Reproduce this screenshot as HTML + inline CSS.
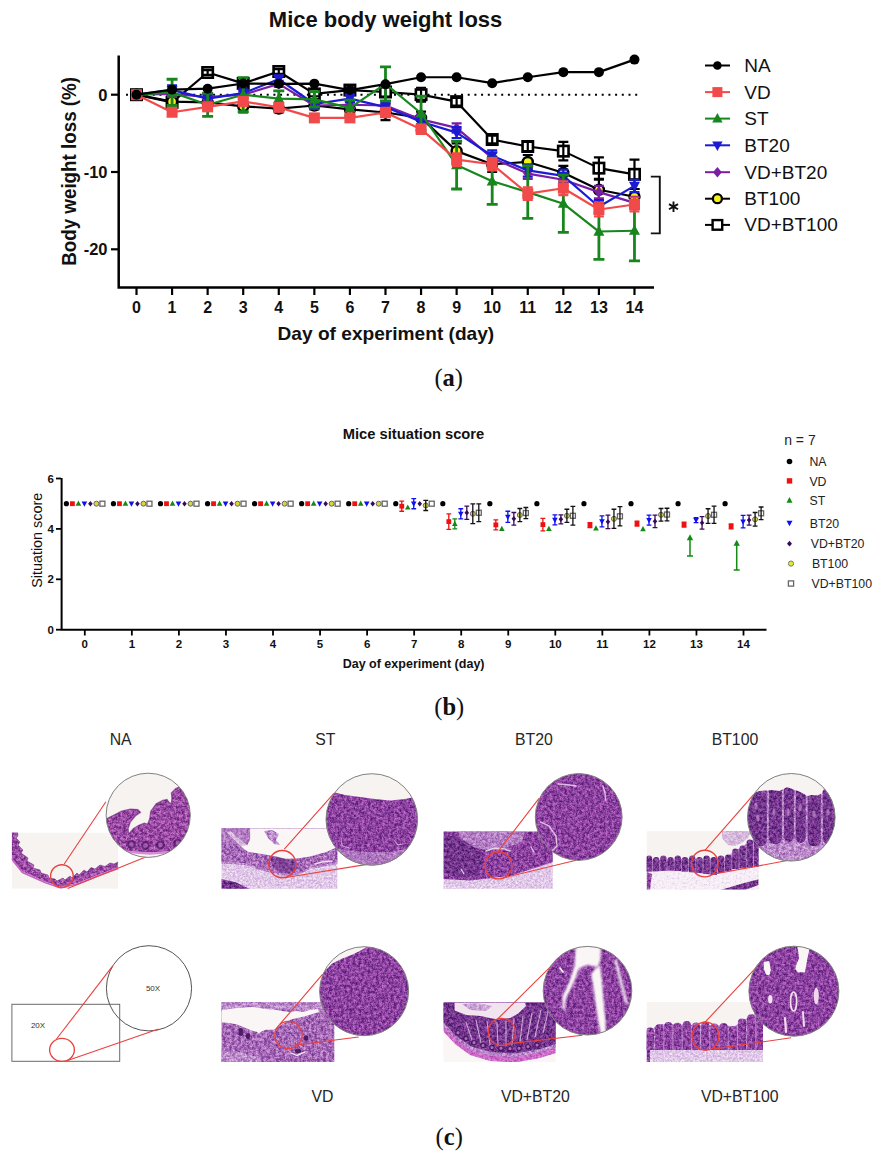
<!DOCTYPE html>
<html><head><meta charset="utf-8"><title>Figure</title>
<style>html,body{margin:0;padding:0;background:#fff;width:888px;height:1156px;overflow:hidden}svg{display:block}</style>
</head><body>
<svg width="888" height="1156" viewBox="0 0 888 1156">
<rect width="888" height="1156" fill="#fff"/>
<defs><filter id="tP" x="-0.05" y="-0.05" width="1.1" height="1.1" color-interpolation-filters="sRGB"><feTurbulence type="fractalNoise" baseFrequency="0.34" numOctaves="3" seed="3" result="n"/><feColorMatrix in="n" type="matrix" values="1 0 0 0 0  1 0 0 0 0  1 0 0 0 0  0 0 0 0 1" result="g1"/><feTurbulence type="fractalNoise" baseFrequency="0.816" numOctaves="1" seed="53" result="n2"/><feColorMatrix in="n2" type="matrix" values="1 0 0 0 0  1 0 0 0 0  1 0 0 0 0  0 0 0 0 1" result="g2"/><feComposite in="g1" in2="g2" operator="arithmetic" k1="0" k2="0.60" k3="0.40" k4="0" result="g"/><feComponentTransfer in="g" result="t"><feFuncR type="table" tableValues="0 0 0.02 0.2 0.5 0.8 0.98 1 1"/></feComponentTransfer><feColorMatrix in="t" type="matrix" values="0.486 0 0 0 0.306  0.380 0 0 0 0.071  0.408 0 0 0 0.424  0 0 0 0 1" result="c"/><feGaussianBlur in="c" stdDeviation="0.6" result="b"/><feComposite in="b" in2="SourceAlpha" operator="in"/></filter><filter id="tD" x="-0.05" y="-0.05" width="1.1" height="1.1" color-interpolation-filters="sRGB"><feTurbulence type="fractalNoise" baseFrequency="0.34" numOctaves="3" seed="7" result="n"/><feColorMatrix in="n" type="matrix" values="1 0 0 0 0  1 0 0 0 0  1 0 0 0 0  0 0 0 0 1" result="g1"/><feTurbulence type="fractalNoise" baseFrequency="0.816" numOctaves="1" seed="57" result="n2"/><feColorMatrix in="n2" type="matrix" values="1 0 0 0 0  1 0 0 0 0  1 0 0 0 0  0 0 0 0 1" result="g2"/><feComposite in="g1" in2="g2" operator="arithmetic" k1="0" k2="0.60" k3="0.40" k4="0" result="g"/><feComponentTransfer in="g" result="t"><feFuncR type="table" tableValues="0 0 0.02 0.2 0.5 0.8 0.98 1 1"/></feComponentTransfer><feColorMatrix in="t" type="matrix" values="0.471 0 0 0 0.216  0.325 0 0 0 0.047  0.400 0 0 0 0.353  0 0 0 0 1" result="c"/><feGaussianBlur in="c" stdDeviation="0.6" result="b"/><feComposite in="b" in2="SourceAlpha" operator="in"/></filter><filter id="tM" x="-0.05" y="-0.05" width="1.1" height="1.1" color-interpolation-filters="sRGB"><feTurbulence type="fractalNoise" baseFrequency="0.34" numOctaves="3" seed="5" result="n"/><feColorMatrix in="n" type="matrix" values="1 0 0 0 0  1 0 0 0 0  1 0 0 0 0  0 0 0 0 1" result="g1"/><feTurbulence type="fractalNoise" baseFrequency="0.816" numOctaves="1" seed="55" result="n2"/><feColorMatrix in="n2" type="matrix" values="1 0 0 0 0  1 0 0 0 0  1 0 0 0 0  0 0 0 0 1" result="g2"/><feComposite in="g1" in2="g2" operator="arithmetic" k1="0" k2="0.60" k3="0.40" k4="0" result="g"/><feComponentTransfer in="g" result="t"><feFuncR type="table" tableValues="0 0 0.02 0.2 0.5 0.8 0.98 1 1"/></feComponentTransfer><feColorMatrix in="t" type="matrix" values="0.361 0 0 0 0.549  0.490 0 0 0 0.294  0.286 0 0 0 0.647  0 0 0 0 1" result="c"/><feGaussianBlur in="c" stdDeviation="0.6" result="b"/><feComposite in="b" in2="SourceAlpha" operator="in"/></filter><filter id="tL" x="-0.05" y="-0.05" width="1.1" height="1.1" color-interpolation-filters="sRGB"><feTurbulence type="fractalNoise" baseFrequency="0.45" numOctaves="3" seed="11" result="n"/><feColorMatrix in="n" type="matrix" values="1 0 0 0 0  1 0 0 0 0  1 0 0 0 0  0 0 0 0 1" result="g1"/><feTurbulence type="fractalNoise" baseFrequency="1.080" numOctaves="1" seed="61" result="n2"/><feColorMatrix in="n2" type="matrix" values="1 0 0 0 0  1 0 0 0 0  1 0 0 0 0  0 0 0 0 1" result="g2"/><feComposite in="g1" in2="g2" operator="arithmetic" k1="0" k2="0.60" k3="0.40" k4="0" result="g"/><feComponentTransfer in="g" result="t"><feFuncR type="table" tableValues="0 0 0.02 0.2 0.5 0.8 0.98 1 1"/></feComponentTransfer><feColorMatrix in="t" type="matrix" values="0.204 0 0 0 0.776  0.314 0 0 0 0.627  0.141 0 0 0 0.839  0 0 0 0 1" result="c"/><feGaussianBlur in="c" stdDeviation="0.6" result="b"/><feComposite in="b" in2="SourceAlpha" operator="in"/></filter><filter id="tQ" x="-0.05" y="-0.05" width="1.1" height="1.1" color-interpolation-filters="sRGB"><feTurbulence type="fractalNoise" baseFrequency="0.34" numOctaves="3" seed="13" result="n"/><feColorMatrix in="n" type="matrix" values="1 0 0 0 0  1 0 0 0 0  1 0 0 0 0  0 0 0 0 1" result="g1"/><feTurbulence type="fractalNoise" baseFrequency="0.816" numOctaves="1" seed="63" result="n2"/><feColorMatrix in="n2" type="matrix" values="1 0 0 0 0  1 0 0 0 0  1 0 0 0 0  0 0 0 0 1" result="g2"/><feComposite in="g1" in2="g2" operator="arithmetic" k1="0" k2="0.60" k3="0.40" k4="0" result="g"/><feComponentTransfer in="g" result="t"><feFuncR type="table" tableValues="0 0 0.02 0.2 0.5 0.8 0.98 1 1"/></feComponentTransfer><feColorMatrix in="t" type="matrix" values="0.471 0 0 0 0.412  0.510 0 0 0 0.157  0.373 0 0 0 0.529  0 0 0 0 1" result="c"/><feGaussianBlur in="c" stdDeviation="0.6" result="b"/><feComposite in="b" in2="SourceAlpha" operator="in"/></filter><filter id="tK" x="-0.05" y="-0.05" width="1.1" height="1.1" color-interpolation-filters="sRGB"><feTurbulence type="fractalNoise" baseFrequency="0.34" numOctaves="3" seed="19" result="n"/><feColorMatrix in="n" type="matrix" values="1 0 0 0 0  1 0 0 0 0  1 0 0 0 0  0 0 0 0 1" result="g1"/><feTurbulence type="fractalNoise" baseFrequency="0.816" numOctaves="1" seed="69" result="n2"/><feColorMatrix in="n2" type="matrix" values="1 0 0 0 0  1 0 0 0 0  1 0 0 0 0  0 0 0 0 1" result="g2"/><feComposite in="g1" in2="g2" operator="arithmetic" k1="0" k2="0.60" k3="0.40" k4="0" result="g"/><feComponentTransfer in="g" result="t"><feFuncR type="table" tableValues="0 0 0.02 0.2 0.5 0.8 0.98 1 1"/></feComponentTransfer><feColorMatrix in="t" type="matrix" values="0.255 0 0 0 0.667  0.353 0 0 0 0.235  0.235 0 0 0 0.667  0 0 0 0 1" result="c"/><feGaussianBlur in="c" stdDeviation="0.6" result="b"/><feComposite in="b" in2="SourceAlpha" operator="in"/></filter><filter id="tN" x="-0.05" y="-0.05" width="1.1" height="1.1" color-interpolation-filters="sRGB"><feTurbulence type="fractalNoise" baseFrequency="0.34" numOctaves="3" seed="23" result="n"/><feColorMatrix in="n" type="matrix" values="1 0 0 0 0  1 0 0 0 0  1 0 0 0 0  0 0 0 0 1" result="g1"/><feTurbulence type="fractalNoise" baseFrequency="0.816" numOctaves="1" seed="73" result="n2"/><feColorMatrix in="n2" type="matrix" values="1 0 0 0 0  1 0 0 0 0  1 0 0 0 0  0 0 0 0 1" result="g2"/><feComposite in="g1" in2="g2" operator="arithmetic" k1="0" k2="0.60" k3="0.40" k4="0" result="g"/><feComponentTransfer in="g" result="t"><feFuncR type="table" tableValues="0 0 0.02 0.2 0.5 0.8 0.98 1 1"/></feComponentTransfer><feColorMatrix in="t" type="matrix" values="0.482 0 0 0 0.361  0.416 0 0 0 0.086  0.404 0 0 0 0.439  0 0 0 0 1" result="c"/><feGaussianBlur in="c" stdDeviation="0.6" result="b"/><feComposite in="b" in2="SourceAlpha" operator="in"/></filter><filter id="sb" x="-0.2" y="-0.2" width="1.4" height="1.4"><feGaussianBlur stdDeviation="0.9"/></filter><filter id="tW" x="-0.05" y="-0.05" width="1.1" height="1.1" color-interpolation-filters="sRGB"><feTurbulence type="fractalNoise" baseFrequency="0.45" numOctaves="3" seed="17" result="n"/><feColorMatrix in="n" type="matrix" values="1 0 0 0 0  1 0 0 0 0  1 0 0 0 0  0 0 0 0 1" result="g1"/><feTurbulence type="fractalNoise" baseFrequency="1.080" numOctaves="1" seed="67" result="n2"/><feColorMatrix in="n2" type="matrix" values="1 0 0 0 0  1 0 0 0 0  1 0 0 0 0  0 0 0 0 1" result="g2"/><feComposite in="g1" in2="g2" operator="arithmetic" k1="0" k2="0.60" k3="0.40" k4="0" result="g"/><feComponentTransfer in="g" result="t"><feFuncR type="table" tableValues="0 0.25 0.6 0.82 0.93 0.98 1 1 1"/></feComponentTransfer><feColorMatrix in="t" type="matrix" values="0.302 0 0 0 0.686  0.455 0 0 0 0.510  0.216 0 0 0 0.765  0 0 0 0 1" result="c"/><feGaussianBlur in="c" stdDeviation="0.6" result="b"/><feComposite in="b" in2="SourceAlpha" operator="in"/></filter></defs>
<text x="385.6" y="27.4" text-anchor="middle" font-family="Liberation Sans" font-weight="bold" font-size="22" fill="#111">Mice body weight loss</text>
<path d="M118.7 55.5V288.8M117.5 287.6H654" stroke="#000" stroke-width="2.5" fill="none"/>
<path d="M111 94.70H118" stroke="#000" stroke-width="2.2"/>
<text x="107.5" y="100.50" text-anchor="end" font-family="Liberation Sans" font-weight="bold" font-size="16.5" fill="#111">0</text>
<path d="M111 172.00H118" stroke="#000" stroke-width="2.2"/>
<text x="107.5" y="177.80" text-anchor="end" font-family="Liberation Sans" font-weight="bold" font-size="16.5" fill="#111">-10</text>
<path d="M111 249.30H118" stroke="#000" stroke-width="2.2"/>
<text x="107.5" y="255.10" text-anchor="end" font-family="Liberation Sans" font-weight="bold" font-size="16.5" fill="#111">-20</text>
<path d="M136.50 288V295" stroke="#000" stroke-width="2.2"/>
<text x="136.50" y="312.8" text-anchor="middle" font-family="Liberation Sans" font-weight="bold" font-size="16" fill="#111">0</text>
<path d="M172.07 288V295" stroke="#000" stroke-width="2.2"/>
<text x="172.07" y="312.8" text-anchor="middle" font-family="Liberation Sans" font-weight="bold" font-size="16" fill="#111">1</text>
<path d="M207.64 288V295" stroke="#000" stroke-width="2.2"/>
<text x="207.64" y="312.8" text-anchor="middle" font-family="Liberation Sans" font-weight="bold" font-size="16" fill="#111">2</text>
<path d="M243.21 288V295" stroke="#000" stroke-width="2.2"/>
<text x="243.21" y="312.8" text-anchor="middle" font-family="Liberation Sans" font-weight="bold" font-size="16" fill="#111">3</text>
<path d="M278.78 288V295" stroke="#000" stroke-width="2.2"/>
<text x="278.78" y="312.8" text-anchor="middle" font-family="Liberation Sans" font-weight="bold" font-size="16" fill="#111">4</text>
<path d="M314.35 288V295" stroke="#000" stroke-width="2.2"/>
<text x="314.35" y="312.8" text-anchor="middle" font-family="Liberation Sans" font-weight="bold" font-size="16" fill="#111">5</text>
<path d="M349.92 288V295" stroke="#000" stroke-width="2.2"/>
<text x="349.92" y="312.8" text-anchor="middle" font-family="Liberation Sans" font-weight="bold" font-size="16" fill="#111">6</text>
<path d="M385.49 288V295" stroke="#000" stroke-width="2.2"/>
<text x="385.49" y="312.8" text-anchor="middle" font-family="Liberation Sans" font-weight="bold" font-size="16" fill="#111">7</text>
<path d="M421.06 288V295" stroke="#000" stroke-width="2.2"/>
<text x="421.06" y="312.8" text-anchor="middle" font-family="Liberation Sans" font-weight="bold" font-size="16" fill="#111">8</text>
<path d="M456.63 288V295" stroke="#000" stroke-width="2.2"/>
<text x="456.63" y="312.8" text-anchor="middle" font-family="Liberation Sans" font-weight="bold" font-size="16" fill="#111">9</text>
<path d="M492.20 288V295" stroke="#000" stroke-width="2.2"/>
<text x="492.20" y="312.8" text-anchor="middle" font-family="Liberation Sans" font-weight="bold" font-size="16" fill="#111">10</text>
<path d="M527.77 288V295" stroke="#000" stroke-width="2.2"/>
<text x="527.77" y="312.8" text-anchor="middle" font-family="Liberation Sans" font-weight="bold" font-size="16" fill="#111">11</text>
<path d="M563.34 288V295" stroke="#000" stroke-width="2.2"/>
<text x="563.34" y="312.8" text-anchor="middle" font-family="Liberation Sans" font-weight="bold" font-size="16" fill="#111">12</text>
<path d="M598.91 288V295" stroke="#000" stroke-width="2.2"/>
<text x="598.91" y="312.8" text-anchor="middle" font-family="Liberation Sans" font-weight="bold" font-size="16" fill="#111">13</text>
<path d="M634.48 288V295" stroke="#000" stroke-width="2.2"/>
<text x="634.48" y="312.8" text-anchor="middle" font-family="Liberation Sans" font-weight="bold" font-size="16" fill="#111">14</text>
<text x="385.9" y="340" text-anchor="middle" font-family="Liberation Sans" font-weight="bold" font-size="19" textLength="216.7" lengthAdjust="spacingAndGlyphs" fill="#111">Day of experiment (day)</text>
<text transform="translate(76.1 265.8) rotate(-90)" x="0" y="0" font-family="Liberation Sans" font-weight="bold" font-size="20" textLength="188.8" lengthAdjust="spacingAndGlyphs" fill="#111">Body weight loss (%)</text>
<path d="M126 94.70H640" stroke="#000" stroke-width="2" stroke-dasharray="2 4.7" fill="none"/>
<polyline points="136.50,94.70 172.07,102.43 207.64,72.51 243.21,83.34 278.78,71.51 314.35,93.93 349.92,90.06 385.49,91.99 421.06,94.70 456.63,101.66 492.20,139.53 527.77,146.49 563.34,151.13 598.91,168.13 634.48,174.32" fill="none" stroke="#000" stroke-width="2.2" stroke-linejoin="round"/>
<rect x="131.30" y="89.50" width="10.40" height="10.40" fill="#fff" stroke="#000" stroke-width="2.6"/>
<rect x="166.87" y="97.23" width="10.40" height="10.40" fill="#fff" stroke="#000" stroke-width="2.6"/>
<rect x="202.44" y="67.31" width="10.40" height="10.40" fill="#fff" stroke="#000" stroke-width="2.6"/>
<rect x="238.01" y="78.14" width="10.40" height="10.40" fill="#fff" stroke="#000" stroke-width="2.6"/>
<rect x="273.58" y="66.31" width="10.40" height="10.40" fill="#fff" stroke="#000" stroke-width="2.6"/>
<rect x="309.15" y="88.73" width="10.40" height="10.40" fill="#fff" stroke="#000" stroke-width="2.6"/>
<rect x="344.72" y="84.86" width="10.40" height="10.40" fill="#fff" stroke="#000" stroke-width="2.6"/>
<rect x="380.29" y="86.79" width="10.40" height="10.40" fill="#fff" stroke="#000" stroke-width="2.6"/>
<rect x="415.86" y="89.50" width="10.40" height="10.40" fill="#fff" stroke="#000" stroke-width="2.6"/>
<rect x="451.43" y="96.46" width="10.40" height="10.40" fill="#fff" stroke="#000" stroke-width="2.6"/>
<rect x="487.00" y="134.33" width="10.40" height="10.40" fill="#fff" stroke="#000" stroke-width="2.6"/>
<rect x="522.57" y="141.29" width="10.40" height="10.40" fill="#fff" stroke="#000" stroke-width="2.6"/>
<rect x="558.14" y="145.93" width="10.40" height="10.40" fill="#fff" stroke="#000" stroke-width="2.6"/>
<rect x="593.71" y="162.94" width="10.40" height="10.40" fill="#fff" stroke="#000" stroke-width="2.6"/>
<rect x="629.28" y="169.12" width="10.40" height="10.40" fill="#fff" stroke="#000" stroke-width="2.6"/>
<path d="M172.07 100.11V104.75M167.07 100.11H177.07M167.07 104.75H177.07" stroke="#000" stroke-width="2.2" fill="none"/>
<path d="M207.64 70.20V74.83M202.64 70.20H212.64M202.64 74.83H212.64" stroke="#000" stroke-width="2.2" fill="none"/>
<path d="M243.21 81.02V85.66M238.21 81.02H248.21M238.21 85.66H248.21" stroke="#000" stroke-width="2.2" fill="none"/>
<path d="M278.78 69.19V73.83M273.78 69.19H283.78M273.78 73.83H283.78" stroke="#000" stroke-width="2.2" fill="none"/>
<path d="M314.35 91.61V96.25M309.35 91.61H319.35M309.35 96.25H319.35" stroke="#000" stroke-width="2.2" fill="none"/>
<path d="M349.92 87.74V92.38M344.92 87.74H354.92M344.92 92.38H354.92" stroke="#000" stroke-width="2.2" fill="none"/>
<path d="M385.49 87.36V96.63M380.49 87.36H390.49M380.49 96.63H390.49" stroke="#000" stroke-width="2.2" fill="none"/>
<path d="M421.06 87.74V101.66M416.06 87.74H426.06M416.06 101.66H426.06" stroke="#000" stroke-width="2.2" fill="none"/>
<path d="M456.63 97.79V105.52M451.63 97.79H461.63M451.63 105.52H461.63" stroke="#000" stroke-width="2.2" fill="none"/>
<path d="M492.20 135.67V143.40M487.20 135.67H497.20M487.20 143.40H497.20" stroke="#000" stroke-width="2.2" fill="none"/>
<path d="M527.77 141.85V151.13M522.77 141.85H532.77M522.77 151.13H532.77" stroke="#000" stroke-width="2.2" fill="none"/>
<path d="M563.34 141.85V160.41M558.34 141.85H568.34M558.34 160.41H568.34" stroke="#000" stroke-width="2.2" fill="none"/>
<path d="M598.91 157.31V178.96M593.91 157.31H603.91M593.91 178.96H603.91" stroke="#000" stroke-width="2.2" fill="none"/>
<path d="M634.48 159.63V189.01M629.48 159.63H639.48M629.48 189.01H639.48" stroke="#000" stroke-width="2.2" fill="none"/>
<path d="M172.07 97.79V105.52M167.07 97.79H177.07M167.07 105.52H177.07" stroke="#000" stroke-width="2.2" fill="none"/>
<path d="M207.64 98.56V106.30M202.64 98.56H212.64M202.64 106.30H212.64" stroke="#000" stroke-width="2.2" fill="none"/>
<path d="M243.21 100.11V112.48M238.21 100.11H248.21M238.21 112.48H248.21" stroke="#000" stroke-width="2.2" fill="none"/>
<path d="M278.78 104.75V112.48M273.78 104.75H283.78M273.78 112.48H283.78" stroke="#000" stroke-width="2.2" fill="none"/>
<path d="M314.35 101.66V109.39M309.35 101.66H319.35M309.35 109.39H319.35" stroke="#000" stroke-width="2.2" fill="none"/>
<path d="M349.92 105.52V113.25M344.92 105.52H354.92M344.92 113.25H354.92" stroke="#000" stroke-width="2.2" fill="none"/>
<path d="M385.49 104.75V120.21M380.49 104.75H390.49M380.49 120.21H390.49" stroke="#000" stroke-width="2.2" fill="none"/>
<path d="M421.06 111.71V124.07M416.06 111.71H426.06M416.06 124.07H426.06" stroke="#000" stroke-width="2.2" fill="none"/>
<path d="M456.63 143.40V158.86M451.63 143.40H461.63M451.63 158.86H461.63" stroke="#000" stroke-width="2.2" fill="none"/>
<path d="M492.20 156.54V172.00M487.20 156.54H497.20M487.20 172.00H497.20" stroke="#000" stroke-width="2.2" fill="none"/>
<path d="M527.77 154.99V168.91M522.77 154.99H532.77M522.77 168.91H532.77" stroke="#000" stroke-width="2.2" fill="none"/>
<path d="M563.34 165.82V179.73M558.34 165.82H568.34M558.34 179.73H568.34" stroke="#000" stroke-width="2.2" fill="none"/>
<path d="M598.91 179.73V199.83M593.91 179.73H603.91M593.91 199.83H603.91" stroke="#000" stroke-width="2.2" fill="none"/>
<path d="M634.48 189.01V204.47M629.48 189.01H639.48M629.48 204.47H639.48" stroke="#000" stroke-width="2.2" fill="none"/>
<polyline points="136.50,94.70 172.07,101.66 207.64,102.43 243.21,106.30 278.78,108.61 314.35,105.52 349.92,109.39 385.49,112.48 421.06,117.89 456.63,151.13 492.20,164.27 527.77,161.95 563.34,172.77 598.91,189.78 634.48,196.74" fill="none" stroke="#000" stroke-width="2.2" stroke-linejoin="round"/>
<circle cx="136.50" cy="94.70" r="5.00" fill="#f2f21a" stroke="#000" stroke-width="2.4"/>
<circle cx="172.07" cy="101.66" r="5.00" fill="#f2f21a" stroke="#000" stroke-width="2.4"/>
<circle cx="207.64" cy="102.43" r="5.00" fill="#f2f21a" stroke="#000" stroke-width="2.4"/>
<circle cx="243.21" cy="106.30" r="5.00" fill="#f2f21a" stroke="#000" stroke-width="2.4"/>
<circle cx="278.78" cy="108.61" r="5.00" fill="#f2f21a" stroke="#000" stroke-width="2.4"/>
<circle cx="314.35" cy="105.52" r="5.00" fill="#f2f21a" stroke="#000" stroke-width="2.4"/>
<circle cx="349.92" cy="109.39" r="5.00" fill="#f2f21a" stroke="#000" stroke-width="2.4"/>
<circle cx="385.49" cy="112.48" r="5.00" fill="#f2f21a" stroke="#000" stroke-width="2.4"/>
<circle cx="421.06" cy="117.89" r="5.00" fill="#f2f21a" stroke="#000" stroke-width="2.4"/>
<circle cx="456.63" cy="151.13" r="5.00" fill="#f2f21a" stroke="#000" stroke-width="2.4"/>
<circle cx="492.20" cy="164.27" r="5.00" fill="#f2f21a" stroke="#000" stroke-width="2.4"/>
<circle cx="527.77" cy="161.95" r="5.00" fill="#f2f21a" stroke="#000" stroke-width="2.4"/>
<circle cx="563.34" cy="172.77" r="5.00" fill="#f2f21a" stroke="#000" stroke-width="2.4"/>
<circle cx="598.91" cy="189.78" r="5.00" fill="#f2f21a" stroke="#000" stroke-width="2.4"/>
<circle cx="634.48" cy="196.74" r="5.00" fill="#f2f21a" stroke="#000" stroke-width="2.4"/>
<path d="M172.07 90.84V97.02M167.07 90.84H177.07M167.07 97.02H177.07" stroke="#7a1ea6" stroke-width="2.2" fill="none"/>
<path d="M207.64 93.93V100.11M202.64 93.93H212.64M202.64 100.11H212.64" stroke="#7a1ea6" stroke-width="2.2" fill="none"/>
<path d="M243.21 91.61V97.79M238.21 91.61H248.21M238.21 97.79H248.21" stroke="#7a1ea6" stroke-width="2.2" fill="none"/>
<path d="M278.78 80.79V86.97M273.78 80.79H283.78M273.78 86.97H283.78" stroke="#7a1ea6" stroke-width="2.2" fill="none"/>
<path d="M314.35 102.43V108.61M309.35 102.43H319.35M309.35 108.61H319.35" stroke="#7a1ea6" stroke-width="2.2" fill="none"/>
<path d="M349.92 101.66V107.84M344.92 101.66H354.92M344.92 107.84H354.92" stroke="#7a1ea6" stroke-width="2.2" fill="none"/>
<path d="M385.49 101.66V109.39M380.49 101.66H390.49M380.49 109.39H390.49" stroke="#7a1ea6" stroke-width="2.2" fill="none"/>
<path d="M421.06 114.80V124.07M416.06 114.80H426.06M416.06 124.07H426.06" stroke="#7a1ea6" stroke-width="2.2" fill="none"/>
<path d="M456.63 123.30V132.58M451.63 123.30H461.63M451.63 132.58H461.63" stroke="#7a1ea6" stroke-width="2.2" fill="none"/>
<path d="M492.20 152.68V163.50M487.20 152.68H497.20M487.20 163.50H497.20" stroke="#7a1ea6" stroke-width="2.2" fill="none"/>
<path d="M527.77 168.13V178.96M522.77 168.13H532.77M522.77 178.96H532.77" stroke="#7a1ea6" stroke-width="2.2" fill="none"/>
<path d="M563.34 173.55V185.91M558.34 173.55H568.34M558.34 185.91H568.34" stroke="#7a1ea6" stroke-width="2.2" fill="none"/>
<path d="M598.91 185.91V198.28M593.91 185.91H603.91M593.91 198.28H603.91" stroke="#7a1ea6" stroke-width="2.2" fill="none"/>
<path d="M634.48 196.74V209.10M629.48 196.74H639.48M629.48 209.10H639.48" stroke="#7a1ea6" stroke-width="2.2" fill="none"/>
<polyline points="136.50,94.70 172.07,93.93 207.64,97.02 243.21,94.70 278.78,83.88 314.35,105.52 349.92,104.75 385.49,105.52 421.06,119.44 456.63,127.94 492.20,158.09 527.77,173.55 563.34,179.73 598.91,192.10 634.48,202.92" fill="none" stroke="#7a1ea6" stroke-width="2.2" stroke-linejoin="round"/>
<path d="M136.50 89.20L141.18 94.70L136.50 100.20L131.82 94.70Z" fill="#7a1ea6"/>
<path d="M172.07 88.43L176.75 93.93L172.07 99.43L167.39 93.93Z" fill="#7a1ea6"/>
<path d="M207.64 91.52L212.31 97.02L207.64 102.52L202.96 97.02Z" fill="#7a1ea6"/>
<path d="M243.21 89.20L247.89 94.70L243.21 100.20L238.53 94.70Z" fill="#7a1ea6"/>
<path d="M278.78 78.38L283.45 83.88L278.78 89.38L274.10 83.88Z" fill="#7a1ea6"/>
<path d="M314.35 100.02L319.03 105.52L314.35 111.02L309.68 105.52Z" fill="#7a1ea6"/>
<path d="M349.92 99.25L354.60 104.75L349.92 110.25L345.25 104.75Z" fill="#7a1ea6"/>
<path d="M385.49 100.02L390.17 105.52L385.49 111.02L380.81 105.52Z" fill="#7a1ea6"/>
<path d="M421.06 113.94L425.74 119.44L421.06 124.94L416.38 119.44Z" fill="#7a1ea6"/>
<path d="M456.63 122.44L461.31 127.94L456.63 133.44L451.95 127.94Z" fill="#7a1ea6"/>
<path d="M492.20 152.59L496.88 158.09L492.20 163.59L487.52 158.09Z" fill="#7a1ea6"/>
<path d="M527.77 168.05L532.44 173.55L527.77 179.05L523.10 173.55Z" fill="#7a1ea6"/>
<path d="M563.34 174.23L568.01 179.73L563.34 185.23L558.67 179.73Z" fill="#7a1ea6"/>
<path d="M598.91 186.60L603.59 192.10L598.91 197.60L594.24 192.10Z" fill="#7a1ea6"/>
<path d="M634.48 197.42L639.15 202.92L634.48 208.42L629.81 202.92Z" fill="#7a1ea6"/>
<path d="M172.07 85.42V94.70M167.07 85.42H177.07M167.07 94.70H177.07" stroke="#1b1bd6" stroke-width="2.2" fill="none"/>
<path d="M207.64 94.70V102.43M202.64 94.70H212.64M202.64 102.43H212.64" stroke="#1b1bd6" stroke-width="2.2" fill="none"/>
<path d="M243.21 89.29V97.02M238.21 89.29H248.21M238.21 97.02H248.21" stroke="#1b1bd6" stroke-width="2.2" fill="none"/>
<path d="M278.78 75.38V83.11M273.78 75.38H283.78M273.78 83.11H283.78" stroke="#1b1bd6" stroke-width="2.2" fill="none"/>
<path d="M314.35 100.11V107.84M309.35 100.11H319.35M309.35 107.84H319.35" stroke="#1b1bd6" stroke-width="2.2" fill="none"/>
<path d="M349.92 94.70V102.43M344.92 94.70H354.92M344.92 102.43H354.92" stroke="#1b1bd6" stroke-width="2.2" fill="none"/>
<path d="M385.49 102.43V111.71M380.49 102.43H390.49M380.49 111.71H390.49" stroke="#1b1bd6" stroke-width="2.2" fill="none"/>
<path d="M421.06 117.12V126.39M416.06 117.12H426.06M416.06 126.39H426.06" stroke="#1b1bd6" stroke-width="2.2" fill="none"/>
<path d="M456.63 127.17V137.99M451.63 127.17H461.63M451.63 137.99H461.63" stroke="#1b1bd6" stroke-width="2.2" fill="none"/>
<path d="M492.20 150.36V161.18M487.20 150.36H497.20M487.20 161.18H497.20" stroke="#1b1bd6" stroke-width="2.2" fill="none"/>
<path d="M527.77 164.27V176.64M522.77 164.27H532.77M522.77 176.64H532.77" stroke="#1b1bd6" stroke-width="2.2" fill="none"/>
<path d="M563.34 169.68V182.05M558.34 169.68H568.34M558.34 182.05H568.34" stroke="#1b1bd6" stroke-width="2.2" fill="none"/>
<path d="M598.91 200.60V212.97M593.91 200.60H603.91M593.91 212.97H603.91" stroke="#1b1bd6" stroke-width="2.2" fill="none"/>
<path d="M634.48 179.73V192.10M629.48 179.73H639.48M629.48 192.10H639.48" stroke="#1b1bd6" stroke-width="2.2" fill="none"/>
<polyline points="136.50,94.70 172.07,90.06 207.64,98.56 243.21,93.15 278.78,79.24 314.35,103.98 349.92,98.56 385.49,107.07 421.06,121.75 456.63,132.58 492.20,155.77 527.77,170.45 563.34,175.87 598.91,206.79 634.48,185.91" fill="none" stroke="#1b1bd6" stroke-width="2.2" stroke-linejoin="round"/>
<path d="M136.50 100.75L142.00 90.58L131.00 90.58Z" fill="#1b1bd6"/>
<path d="M172.07 96.11L177.57 85.94L166.57 85.94Z" fill="#1b1bd6"/>
<path d="M207.64 104.61L213.14 94.44L202.14 94.44Z" fill="#1b1bd6"/>
<path d="M243.21 99.20L248.71 89.03L237.71 89.03Z" fill="#1b1bd6"/>
<path d="M278.78 85.29L284.28 75.12L273.28 75.12Z" fill="#1b1bd6"/>
<path d="M314.35 110.03L319.85 99.85L308.85 99.85Z" fill="#1b1bd6"/>
<path d="M349.92 104.61L355.42 94.44L344.42 94.44Z" fill="#1b1bd6"/>
<path d="M385.49 113.12L390.99 102.94L379.99 102.94Z" fill="#1b1bd6"/>
<path d="M421.06 127.80L426.56 117.63L415.56 117.63Z" fill="#1b1bd6"/>
<path d="M456.63 138.63L462.13 128.45L451.13 128.45Z" fill="#1b1bd6"/>
<path d="M492.20 161.82L497.70 151.64L486.70 151.64Z" fill="#1b1bd6"/>
<path d="M527.77 176.50L533.27 166.33L522.27 166.33Z" fill="#1b1bd6"/>
<path d="M563.34 181.92L568.84 171.74L557.84 171.74Z" fill="#1b1bd6"/>
<path d="M598.91 212.84L604.41 202.66L593.41 202.66Z" fill="#1b1bd6"/>
<path d="M634.48 191.96L639.98 181.79L628.98 181.79Z" fill="#1b1bd6"/>
<path d="M172.07 79.24V105.52M166.57 79.24H177.57M166.57 105.52H177.57" stroke="#17861d" stroke-width="2.8" fill="none"/>
<path d="M207.64 93.15V116.34M202.14 93.15H213.14M202.14 116.34H213.14" stroke="#17861d" stroke-width="2.8" fill="none"/>
<path d="M243.21 77.69V111.71M237.71 77.69H248.71M237.71 111.71H248.71" stroke="#17861d" stroke-width="2.8" fill="none"/>
<path d="M278.78 90.84V106.30M273.28 90.84H284.28M273.28 106.30H284.28" stroke="#17861d" stroke-width="2.8" fill="none"/>
<path d="M314.35 91.61V107.07M308.85 91.61H319.85M308.85 107.07H319.85" stroke="#17861d" stroke-width="2.8" fill="none"/>
<path d="M349.92 100.11V115.57M344.42 100.11H355.42M344.42 115.57H355.42" stroke="#17861d" stroke-width="2.8" fill="none"/>
<path d="M385.49 66.87V100.88M379.99 66.87H390.99M379.99 100.88H390.99" stroke="#17861d" stroke-width="2.8" fill="none"/>
<path d="M421.06 96.25V130.26M415.56 96.25H426.56M415.56 130.26H426.56" stroke="#17861d" stroke-width="2.8" fill="none"/>
<path d="M456.63 141.08V189.01M451.13 141.08H462.13M451.13 189.01H462.13" stroke="#17861d" stroke-width="2.8" fill="none"/>
<path d="M492.20 158.09V204.47M486.70 158.09H497.70M486.70 204.47H497.70" stroke="#17861d" stroke-width="2.8" fill="none"/>
<path d="M527.77 165.82V218.38M522.27 165.82H533.27M522.27 218.38H533.27" stroke="#17861d" stroke-width="2.8" fill="none"/>
<path d="M563.34 175.09V232.29M557.84 175.09H568.84M557.84 232.29H568.84" stroke="#17861d" stroke-width="2.8" fill="none"/>
<path d="M598.91 203.69V259.35M593.41 203.69H604.41M593.41 259.35H604.41" stroke="#17861d" stroke-width="2.8" fill="none"/>
<path d="M634.48 200.60V260.90M628.98 200.60H639.98M628.98 260.90H639.98" stroke="#17861d" stroke-width="2.8" fill="none"/>
<polyline points="136.50,94.70 172.07,92.38 207.64,104.75 243.21,94.70 278.78,98.56 314.35,99.34 349.92,107.84 385.49,83.88 421.06,113.25 456.63,165.04 492.20,181.28 527.77,192.10 563.34,203.69 598.91,231.52 634.48,230.75" fill="none" stroke="#17861d" stroke-width="2.2" stroke-linejoin="round"/>
<path d="M136.50 88.65L142.00 98.83L131.00 98.83Z" fill="#17861d"/>
<path d="M172.07 86.33L177.57 96.51L166.57 96.51Z" fill="#17861d"/>
<path d="M207.64 98.70L213.14 108.87L202.14 108.87Z" fill="#17861d"/>
<path d="M243.21 88.65L248.71 98.83L237.71 98.83Z" fill="#17861d"/>
<path d="M278.78 92.52L284.28 102.69L273.28 102.69Z" fill="#17861d"/>
<path d="M314.35 93.29L319.85 103.46L308.85 103.46Z" fill="#17861d"/>
<path d="M349.92 101.79L355.42 111.97L344.42 111.97Z" fill="#17861d"/>
<path d="M385.49 77.83L390.99 88.00L379.99 88.00Z" fill="#17861d"/>
<path d="M421.06 107.20L426.56 117.38L415.56 117.38Z" fill="#17861d"/>
<path d="M456.63 158.99L462.13 169.17L451.13 169.17Z" fill="#17861d"/>
<path d="M492.20 175.23L497.70 185.40L486.70 185.40Z" fill="#17861d"/>
<path d="M527.77 186.05L533.27 196.22L522.27 196.22Z" fill="#17861d"/>
<path d="M563.34 197.64L568.84 207.82L557.84 207.82Z" fill="#17861d"/>
<path d="M598.91 225.47L604.41 235.65L593.41 235.65Z" fill="#17861d"/>
<path d="M634.48 224.70L639.98 234.87L628.98 234.87Z" fill="#17861d"/>
<path d="M172.07 109.16V115.34M167.07 109.16H177.07M167.07 115.34H177.07" stroke="#f24a4a" stroke-width="2.2" fill="none"/>
<path d="M207.64 103.74V109.93M202.64 103.74H212.64M202.64 109.93H212.64" stroke="#f24a4a" stroke-width="2.2" fill="none"/>
<path d="M243.21 98.33V104.52M238.21 98.33H248.21M238.21 104.52H248.21" stroke="#f24a4a" stroke-width="2.2" fill="none"/>
<path d="M278.78 104.29V110.47M273.78 104.29H283.78M273.78 110.47H283.78" stroke="#f24a4a" stroke-width="2.2" fill="none"/>
<path d="M314.35 114.80V120.98M309.35 114.80H319.35M309.35 120.98H319.35" stroke="#f24a4a" stroke-width="2.2" fill="none"/>
<path d="M349.92 114.80V120.98M344.92 114.80H354.92M344.92 120.98H354.92" stroke="#f24a4a" stroke-width="2.2" fill="none"/>
<path d="M385.49 107.84V117.12M380.49 107.84H390.49M380.49 117.12H390.49" stroke="#f24a4a" stroke-width="2.2" fill="none"/>
<path d="M421.06 124.54V133.81M416.06 124.54H426.06M416.06 133.81H426.06" stroke="#f24a4a" stroke-width="2.2" fill="none"/>
<path d="M456.63 153.45V165.82M451.63 153.45H461.63M451.63 165.82H461.63" stroke="#f24a4a" stroke-width="2.2" fill="none"/>
<path d="M492.20 158.09V170.45M487.20 158.09H497.20M487.20 170.45H497.20" stroke="#f24a4a" stroke-width="2.2" fill="none"/>
<path d="M527.77 187.46V199.83M522.77 187.46H532.77M522.77 199.83H532.77" stroke="#f24a4a" stroke-width="2.2" fill="none"/>
<path d="M563.34 181.28V195.19M558.34 181.28H568.34M558.34 195.19H568.34" stroke="#f24a4a" stroke-width="2.2" fill="none"/>
<path d="M598.91 202.53V216.45M593.91 202.53H603.91M593.91 216.45H603.91" stroke="#f24a4a" stroke-width="2.2" fill="none"/>
<path d="M634.48 197.51V211.42M629.48 197.51H639.48M629.48 211.42H639.48" stroke="#f24a4a" stroke-width="2.2" fill="none"/>
<polyline points="136.50,94.70 172.07,112.25 207.64,106.84 243.21,101.43 278.78,107.38 314.35,117.89 349.92,117.89 385.49,112.48 421.06,129.18 456.63,159.63 492.20,164.27 527.77,193.64 563.34,188.23 598.91,209.49 634.48,204.47" fill="none" stroke="#f24a4a" stroke-width="2.2" stroke-linejoin="round"/>
<rect x="131.00" y="89.20" width="11.00" height="11.00" fill="#f24a4a"/>
<rect x="166.57" y="106.75" width="11.00" height="11.00" fill="#f24a4a"/>
<rect x="202.14" y="101.34" width="11.00" height="11.00" fill="#f24a4a"/>
<rect x="237.71" y="95.93" width="11.00" height="11.00" fill="#f24a4a"/>
<rect x="273.28" y="101.88" width="11.00" height="11.00" fill="#f24a4a"/>
<rect x="308.85" y="112.39" width="11.00" height="11.00" fill="#f24a4a"/>
<rect x="344.42" y="112.39" width="11.00" height="11.00" fill="#f24a4a"/>
<rect x="379.99" y="106.98" width="11.00" height="11.00" fill="#f24a4a"/>
<rect x="415.56" y="123.68" width="11.00" height="11.00" fill="#f24a4a"/>
<rect x="451.13" y="154.13" width="11.00" height="11.00" fill="#f24a4a"/>
<rect x="486.70" y="158.77" width="11.00" height="11.00" fill="#f24a4a"/>
<rect x="522.27" y="188.14" width="11.00" height="11.00" fill="#f24a4a"/>
<rect x="557.84" y="182.73" width="11.00" height="11.00" fill="#f24a4a"/>
<rect x="593.41" y="203.99" width="11.00" height="11.00" fill="#f24a4a"/>
<rect x="628.98" y="198.97" width="11.00" height="11.00" fill="#f24a4a"/>
<polyline points="136.50,94.70 172.07,89.60 207.64,88.67 243.21,83.49 278.78,83.80 314.35,83.65 349.92,90.06 385.49,84.19 421.06,77.23 456.63,77.23 492.20,83.18 527.77,77.23 563.34,72.13 598.91,72.13 634.48,59.61" fill="none" stroke="#000" stroke-width="2.2" stroke-linejoin="round"/>
<circle cx="136.50" cy="94.70" r="5.00" fill="#000"/>
<circle cx="172.07" cy="89.60" r="5.00" fill="#000"/>
<circle cx="207.64" cy="88.67" r="5.00" fill="#000"/>
<circle cx="243.21" cy="83.49" r="5.00" fill="#000"/>
<circle cx="278.78" cy="83.80" r="5.00" fill="#000"/>
<circle cx="314.35" cy="83.65" r="5.00" fill="#000"/>
<circle cx="349.92" cy="90.06" r="5.00" fill="#000"/>
<circle cx="385.49" cy="84.19" r="5.00" fill="#000"/>
<circle cx="421.06" cy="77.23" r="5.00" fill="#000"/>
<circle cx="456.63" cy="77.23" r="5.00" fill="#000"/>
<circle cx="492.20" cy="83.18" r="5.00" fill="#000"/>
<circle cx="527.77" cy="77.23" r="5.00" fill="#000"/>
<circle cx="563.34" cy="72.13" r="5.00" fill="#000"/>
<circle cx="598.91" cy="72.13" r="5.00" fill="#000"/>
<circle cx="634.48" cy="59.61" r="5.00" fill="#000"/>
<path d="M650.8 176.6H659.8V233.4H650.8" stroke="#111" stroke-width="1.9" fill="none"/>
<path d="M673.5 201.5V211.9M669 204.1L678 209.3M669 209.3L678 204.1" stroke="#111" stroke-width="1.9" fill="none"/>
<path d="M705 65.50H730" stroke="#000" stroke-width="2"/>
<circle cx="717.40" cy="65.50" r="4.30" fill="#000"/>
<text x="744.3" y="72.00" font-family="Liberation Sans" font-size="19" fill="#111">NA</text>
<path d="M705 92.10H730" stroke="#f24a4a" stroke-width="2"/>
<rect x="712.40" y="87.10" width="10.00" height="10.00" fill="#f24a4a"/>
<text x="744.3" y="98.60" font-family="Liberation Sans" font-size="19" fill="#111">VD</text>
<path d="M705 118.60H730" stroke="#17861d" stroke-width="2"/>
<path d="M717.40 112.88L722.60 122.50L712.20 122.50Z" fill="#17861d"/>
<text x="744.3" y="125.10" font-family="Liberation Sans" font-size="19" fill="#111">ST</text>
<path d="M705 145.30H730" stroke="#1b1bd6" stroke-width="2"/>
<path d="M717.40 151.02L722.60 141.40L712.20 141.40Z" fill="#1b1bd6"/>
<text x="744.3" y="151.80" font-family="Liberation Sans" font-size="19" fill="#111">BT20</text>
<path d="M705 172.20H730" stroke="#7a1ea6" stroke-width="2"/>
<path d="M717.40 167.00L721.82 172.20L717.40 177.40L712.98 172.20Z" fill="#7a1ea6"/>
<text x="744.3" y="178.70" font-family="Liberation Sans" font-size="19" fill="#111">VD+BT20</text>
<path d="M705 198.70H730" stroke="#000" stroke-width="2"/>
<circle cx="717.40" cy="198.70" r="4.50" fill="#f2f21a" stroke="#000" stroke-width="2.2"/>
<text x="744.3" y="205.20" font-family="Liberation Sans" font-size="19" fill="#111">BT100</text>
<path d="M705 224.90H730" stroke="#000" stroke-width="2"/>
<rect x="712.60" y="220.10" width="9.60" height="9.60" fill="#fff" stroke="#000" stroke-width="2.4"/>
<text x="744.3" y="231.40" font-family="Liberation Sans" font-size="19" fill="#111">VD+BT100</text>
<text x="448.7" y="386.3" text-anchor="middle" font-family="Liberation Serif" font-size="24.5" fill="#111">(<tspan font-weight="bold">a</tspan>)</text>
<text x="413.5" y="439.3" text-anchor="middle" font-family="Liberation Sans" font-weight="bold" font-size="15" textLength="141.5" lengthAdjust="spacingAndGlyphs" fill="#111">Mice situation score</text>
<path d="M61.6 478V630.7M60.6 629.7H766.5" stroke="#000" stroke-width="2" fill="none"/>
<path d="M56 629.70H61" stroke="#000" stroke-width="1.8"/>
<text x="54" y="633.70" text-anchor="end" font-family="Liberation Sans" font-weight="bold" font-size="11.5" fill="#111">0</text>
<path d="M56 579.30H61" stroke="#000" stroke-width="1.8"/>
<text x="54" y="583.30" text-anchor="end" font-family="Liberation Sans" font-weight="bold" font-size="11.5" fill="#111">2</text>
<path d="M56 528.90H61" stroke="#000" stroke-width="1.8"/>
<text x="54" y="532.90" text-anchor="end" font-family="Liberation Sans" font-weight="bold" font-size="11.5" fill="#111">4</text>
<path d="M56 478.50H61" stroke="#000" stroke-width="1.8"/>
<text x="54" y="482.50" text-anchor="end" font-family="Liberation Sans" font-weight="bold" font-size="11.5" fill="#111">6</text>
<path d="M84.80 630V635.5" stroke="#000" stroke-width="1.8"/>
<text x="84.80" y="648" text-anchor="middle" font-family="Liberation Sans" font-weight="bold" font-size="11.5" fill="#111">0</text>
<path d="M131.85 630V635.5" stroke="#000" stroke-width="1.8"/>
<text x="131.85" y="648" text-anchor="middle" font-family="Liberation Sans" font-weight="bold" font-size="11.5" fill="#111">1</text>
<path d="M178.90 630V635.5" stroke="#000" stroke-width="1.8"/>
<text x="178.90" y="648" text-anchor="middle" font-family="Liberation Sans" font-weight="bold" font-size="11.5" fill="#111">2</text>
<path d="M225.95 630V635.5" stroke="#000" stroke-width="1.8"/>
<text x="225.95" y="648" text-anchor="middle" font-family="Liberation Sans" font-weight="bold" font-size="11.5" fill="#111">3</text>
<path d="M273.00 630V635.5" stroke="#000" stroke-width="1.8"/>
<text x="273.00" y="648" text-anchor="middle" font-family="Liberation Sans" font-weight="bold" font-size="11.5" fill="#111">4</text>
<path d="M320.05 630V635.5" stroke="#000" stroke-width="1.8"/>
<text x="320.05" y="648" text-anchor="middle" font-family="Liberation Sans" font-weight="bold" font-size="11.5" fill="#111">5</text>
<path d="M367.10 630V635.5" stroke="#000" stroke-width="1.8"/>
<text x="367.10" y="648" text-anchor="middle" font-family="Liberation Sans" font-weight="bold" font-size="11.5" fill="#111">6</text>
<path d="M414.15 630V635.5" stroke="#000" stroke-width="1.8"/>
<text x="414.15" y="648" text-anchor="middle" font-family="Liberation Sans" font-weight="bold" font-size="11.5" fill="#111">7</text>
<path d="M461.20 630V635.5" stroke="#000" stroke-width="1.8"/>
<text x="461.20" y="648" text-anchor="middle" font-family="Liberation Sans" font-weight="bold" font-size="11.5" fill="#111">8</text>
<path d="M508.25 630V635.5" stroke="#000" stroke-width="1.8"/>
<text x="508.25" y="648" text-anchor="middle" font-family="Liberation Sans" font-weight="bold" font-size="11.5" fill="#111">9</text>
<path d="M555.30 630V635.5" stroke="#000" stroke-width="1.8"/>
<text x="555.30" y="648" text-anchor="middle" font-family="Liberation Sans" font-weight="bold" font-size="11.5" fill="#111">10</text>
<path d="M602.35 630V635.5" stroke="#000" stroke-width="1.8"/>
<text x="602.35" y="648" text-anchor="middle" font-family="Liberation Sans" font-weight="bold" font-size="11.5" fill="#111">11</text>
<path d="M649.40 630V635.5" stroke="#000" stroke-width="1.8"/>
<text x="649.40" y="648" text-anchor="middle" font-family="Liberation Sans" font-weight="bold" font-size="11.5" fill="#111">12</text>
<path d="M696.45 630V635.5" stroke="#000" stroke-width="1.8"/>
<text x="696.45" y="648" text-anchor="middle" font-family="Liberation Sans" font-weight="bold" font-size="11.5" fill="#111">13</text>
<path d="M743.50 630V635.5" stroke="#000" stroke-width="1.8"/>
<text x="743.50" y="648" text-anchor="middle" font-family="Liberation Sans" font-weight="bold" font-size="11.5" fill="#111">14</text>
<text x="413.6" y="668.4" text-anchor="middle" font-family="Liberation Sans" font-weight="bold" font-size="12.5" textLength="141.9" lengthAdjust="spacingAndGlyphs" fill="#111">Day of experiment (day)</text>
<text transform="translate(42.3 587.8) rotate(-90)" font-family="Liberation Sans" font-size="15.2" textLength="95" lengthAdjust="spacingAndGlyphs" fill="#111">Situation score</text>
<circle cx="66.40" cy="503.70" r="2.60" fill="#000"/>
<rect x="70.00" y="501.30" width="4.80" height="4.80" fill="#f01010"/>
<path d="M78.40 500.62L81.20 505.80L75.60 505.80Z" fill="#138a13"/>
<path d="M84.40 506.78L87.20 501.60L81.60 501.60Z" fill="#1010f0"/>
<path d="M90.40 501.00L92.69 503.70L90.40 506.40L88.10 503.70Z" fill="#3a0a5a"/>
<circle cx="96.40" cy="503.70" r="2.50" fill="#d6d640" stroke="#666" stroke-width="1.0"/>
<rect x="99.90" y="501.20" width="5.00" height="5.00" fill="#fff" stroke="#666" stroke-width="1.3"/>
<circle cx="113.45" cy="503.70" r="2.60" fill="#000"/>
<rect x="117.05" y="501.30" width="4.80" height="4.80" fill="#f01010"/>
<path d="M125.45 500.62L128.25 505.80L122.65 505.80Z" fill="#138a13"/>
<path d="M131.45 506.78L134.25 501.60L128.65 501.60Z" fill="#1010f0"/>
<path d="M137.45 501.00L139.74 503.70L137.45 506.40L135.16 503.70Z" fill="#3a0a5a"/>
<circle cx="143.45" cy="503.70" r="2.50" fill="#d6d640" stroke="#666" stroke-width="1.0"/>
<rect x="146.95" y="501.20" width="5.00" height="5.00" fill="#fff" stroke="#666" stroke-width="1.3"/>
<circle cx="160.50" cy="503.70" r="2.60" fill="#000"/>
<rect x="164.10" y="501.30" width="4.80" height="4.80" fill="#f01010"/>
<path d="M172.50 500.62L175.30 505.80L169.70 505.80Z" fill="#138a13"/>
<path d="M178.50 506.78L181.30 501.60L175.70 501.60Z" fill="#1010f0"/>
<path d="M184.50 501.00L186.79 503.70L184.50 506.40L182.20 503.70Z" fill="#3a0a5a"/>
<circle cx="190.50" cy="503.70" r="2.50" fill="#d6d640" stroke="#666" stroke-width="1.0"/>
<rect x="194.00" y="501.20" width="5.00" height="5.00" fill="#fff" stroke="#666" stroke-width="1.3"/>
<circle cx="207.55" cy="503.70" r="2.60" fill="#000"/>
<rect x="211.15" y="501.30" width="4.80" height="4.80" fill="#f01010"/>
<path d="M219.55 500.62L222.35 505.80L216.75 505.80Z" fill="#138a13"/>
<path d="M225.55 506.78L228.35 501.60L222.75 501.60Z" fill="#1010f0"/>
<path d="M231.55 501.00L233.84 503.70L231.55 506.40L229.25 503.70Z" fill="#3a0a5a"/>
<circle cx="237.55" cy="503.70" r="2.50" fill="#d6d640" stroke="#666" stroke-width="1.0"/>
<rect x="241.05" y="501.20" width="5.00" height="5.00" fill="#fff" stroke="#666" stroke-width="1.3"/>
<circle cx="254.60" cy="503.70" r="2.60" fill="#000"/>
<rect x="258.20" y="501.30" width="4.80" height="4.80" fill="#f01010"/>
<path d="M266.60 500.62L269.40 505.80L263.80 505.80Z" fill="#138a13"/>
<path d="M272.60 506.78L275.40 501.60L269.80 501.60Z" fill="#1010f0"/>
<path d="M278.60 501.00L280.90 503.70L278.60 506.40L276.31 503.70Z" fill="#3a0a5a"/>
<circle cx="284.60" cy="503.70" r="2.50" fill="#d6d640" stroke="#666" stroke-width="1.0"/>
<rect x="288.10" y="501.20" width="5.00" height="5.00" fill="#fff" stroke="#666" stroke-width="1.3"/>
<circle cx="301.65" cy="503.70" r="2.60" fill="#000"/>
<rect x="305.25" y="501.30" width="4.80" height="4.80" fill="#f01010"/>
<path d="M313.65 500.62L316.45 505.80L310.85 505.80Z" fill="#138a13"/>
<path d="M319.65 506.78L322.45 501.60L316.85 501.60Z" fill="#1010f0"/>
<path d="M325.65 501.00L327.95 503.70L325.65 506.40L323.36 503.70Z" fill="#3a0a5a"/>
<circle cx="331.65" cy="503.70" r="2.50" fill="#d6d640" stroke="#666" stroke-width="1.0"/>
<rect x="335.15" y="501.20" width="5.00" height="5.00" fill="#fff" stroke="#666" stroke-width="1.3"/>
<circle cx="348.70" cy="503.70" r="2.60" fill="#000"/>
<rect x="352.30" y="501.30" width="4.80" height="4.80" fill="#f01010"/>
<path d="M360.70 500.62L363.50 505.80L357.90 505.80Z" fill="#138a13"/>
<path d="M366.70 506.78L369.50 501.60L363.90 501.60Z" fill="#1010f0"/>
<path d="M372.70 501.00L375.00 503.70L372.70 506.40L370.40 503.70Z" fill="#3a0a5a"/>
<circle cx="378.70" cy="503.70" r="2.50" fill="#d6d640" stroke="#666" stroke-width="1.0"/>
<rect x="382.20" y="501.20" width="5.00" height="5.00" fill="#fff" stroke="#666" stroke-width="1.3"/>
<circle cx="395.75" cy="503.70" r="2.60" fill="#000"/>
<rect x="399.35" y="503.82" width="4.80" height="4.80" fill="#f01010"/>
<path d="M401.75 501.18V511.26M399.35 501.18H404.15M399.35 511.26H404.15" stroke="#f01010" stroke-width="1.3" fill="none"/>
<path d="M407.75 504.40L410.55 509.58L404.95 509.58Z" fill="#138a13"/>
<path d="M413.75 506.78L416.55 501.60L410.95 501.60Z" fill="#1010f0"/>
<path d="M413.75 498.66V508.74M411.35 498.66H416.15M411.35 508.74H416.15" stroke="#1010f0" stroke-width="1.3" fill="none"/>
<path d="M419.75 501.00L422.05 503.70L419.75 506.40L417.45 503.70Z" fill="#3a0a5a"/>
<circle cx="425.75" cy="505.46" r="2.50" fill="#d6d640" stroke="#666" stroke-width="1.0"/>
<path d="M425.75 500.42V510.50M423.35 500.42H428.15M423.35 510.50H428.15" stroke="#111" stroke-width="1.3" fill="none"/>
<rect x="429.25" y="501.20" width="5.00" height="5.00" fill="#fff" stroke="#666" stroke-width="1.3"/>
<circle cx="442.80" cy="503.70" r="2.60" fill="#000"/>
<rect x="446.40" y="519.19" width="4.80" height="4.80" fill="#f01010"/>
<path d="M448.80 513.78V529.40M446.40 513.78H451.20M446.40 529.40H451.20" stroke="#f01010" stroke-width="1.3" fill="none"/>
<path d="M454.80 520.78L457.60 525.96L452.00 525.96Z" fill="#138a13"/>
<path d="M454.80 518.82V528.90M452.40 518.82H457.20M452.40 528.90H457.20" stroke="#138a13" stroke-width="1.3" fill="none"/>
<path d="M460.80 516.86L463.60 511.68L458.00 511.68Z" fill="#1010f0"/>
<path d="M460.80 508.74V518.82M458.40 508.74H463.20M458.40 518.82H463.20" stroke="#1010f0" stroke-width="1.3" fill="none"/>
<path d="M466.80 510.07L469.10 512.77L466.80 515.47L464.50 512.77Z" fill="#3a0a5a"/>
<path d="M466.80 506.22V519.32M464.40 506.22H469.20M464.40 519.32H469.20" stroke="#3a0a5a" stroke-width="1.3" fill="none"/>
<circle cx="472.80" cy="513.78" r="2.50" fill="#d6d640" stroke="#666" stroke-width="1.0"/>
<path d="M472.80 503.95V523.61M470.40 503.95H475.20M470.40 523.61H475.20" stroke="#111" stroke-width="1.3" fill="none"/>
<rect x="476.30" y="510.27" width="5.00" height="5.00" fill="#fff" stroke="#666" stroke-width="1.3"/>
<path d="M478.80 503.95V521.59M476.40 503.95H481.20M476.40 521.59H481.20" stroke="#111" stroke-width="1.3" fill="none"/>
<circle cx="489.85" cy="503.70" r="2.60" fill="#000"/>
<rect x="493.45" y="522.47" width="4.80" height="4.80" fill="#f01010"/>
<path d="M495.85 519.83V529.91M493.45 519.83H498.25M493.45 529.91H498.25" stroke="#f01010" stroke-width="1.3" fill="none"/>
<path d="M501.85 525.82L504.65 531.00L499.05 531.00Z" fill="#138a13"/>
<path d="M507.85 519.88L510.65 514.70L505.05 514.70Z" fill="#1010f0"/>
<path d="M507.85 511.26V522.35M505.45 511.26H510.25M505.45 522.35H510.25" stroke="#1010f0" stroke-width="1.3" fill="none"/>
<path d="M513.85 516.12L516.14 518.82L513.85 521.52L511.56 518.82Z" fill="#3a0a5a"/>
<path d="M513.85 512.52V525.12M511.45 512.52H516.25M511.45 525.12H516.25" stroke="#3a0a5a" stroke-width="1.3" fill="none"/>
<circle cx="519.85" cy="515.04" r="2.50" fill="#d6d640" stroke="#666" stroke-width="1.0"/>
<path d="M519.85 508.49V521.59M517.45 508.49H522.25M517.45 521.59H522.25" stroke="#111" stroke-width="1.3" fill="none"/>
<rect x="523.35" y="510.52" width="5.00" height="5.00" fill="#fff" stroke="#666" stroke-width="1.3"/>
<path d="M525.85 507.48V518.57M523.45 507.48H528.25M523.45 518.57H528.25" stroke="#111" stroke-width="1.3" fill="none"/>
<circle cx="536.90" cy="503.70" r="2.60" fill="#000"/>
<rect x="540.50" y="522.22" width="4.80" height="4.80" fill="#f01010"/>
<path d="M542.90 518.32V530.92M540.50 518.32H545.30M540.50 530.92H545.30" stroke="#f01010" stroke-width="1.3" fill="none"/>
<path d="M548.90 525.82L551.70 531.00L546.10 531.00Z" fill="#138a13"/>
<path d="M554.90 522.91L557.70 517.73L552.10 517.73Z" fill="#1010f0"/>
<path d="M554.90 514.79V524.87M552.50 514.79H557.30M552.50 524.87H557.30" stroke="#1010f0" stroke-width="1.3" fill="none"/>
<path d="M560.90 516.62L563.19 519.32L560.90 522.02L558.61 519.32Z" fill="#3a0a5a"/>
<path d="M560.90 514.79V523.86M558.50 514.79H563.30M558.50 523.86H563.30" stroke="#3a0a5a" stroke-width="1.3" fill="none"/>
<circle cx="566.90" cy="515.80" r="2.50" fill="#d6d640" stroke="#666" stroke-width="1.0"/>
<path d="M566.90 509.24V522.35M564.50 509.24H569.30M564.50 522.35H569.30" stroke="#111" stroke-width="1.3" fill="none"/>
<rect x="570.40" y="513.30" width="5.00" height="5.00" fill="#fff" stroke="#666" stroke-width="1.3"/>
<path d="M572.90 506.47V525.12M570.50 506.47H575.30M570.50 525.12H575.30" stroke="#111" stroke-width="1.3" fill="none"/>
<circle cx="583.95" cy="503.70" r="2.60" fill="#000"/>
<rect x="587.55" y="522.72" width="4.80" height="4.80" fill="#f01010"/>
<path d="M589.95 522.60V527.64M587.55 522.60H592.35M587.55 527.64H592.35" stroke="#f01010" stroke-width="1.3" fill="none"/>
<path d="M595.95 525.32L598.75 530.50L593.15 530.50Z" fill="#138a13"/>
<path d="M601.95 524.42L604.75 519.24L599.15 519.24Z" fill="#1010f0"/>
<path d="M601.95 515.80V526.88M599.55 515.80H604.35M599.55 526.88H604.35" stroke="#1010f0" stroke-width="1.3" fill="none"/>
<path d="M607.95 519.14L610.24 521.84L607.95 524.54L605.65 521.84Z" fill="#3a0a5a"/>
<path d="M607.95 515.04V528.65M605.55 515.04H610.35M605.55 528.65H610.35" stroke="#3a0a5a" stroke-width="1.3" fill="none"/>
<circle cx="613.95" cy="518.82" r="2.50" fill="#d6d640" stroke="#666" stroke-width="1.0"/>
<path d="M613.95 509.24V528.40M611.55 509.24H616.35M611.55 528.40H616.35" stroke="#111" stroke-width="1.3" fill="none"/>
<rect x="617.45" y="513.80" width="5.00" height="5.00" fill="#fff" stroke="#666" stroke-width="1.3"/>
<path d="M619.95 506.72V525.88M617.55 506.72H622.35M617.55 525.88H622.35" stroke="#111" stroke-width="1.3" fill="none"/>
<circle cx="631.00" cy="503.70" r="2.60" fill="#000"/>
<rect x="634.60" y="521.21" width="4.80" height="4.80" fill="#f01010"/>
<path d="M637.00 521.09V526.13M634.60 521.09H639.40M634.60 526.13H639.40" stroke="#f01010" stroke-width="1.3" fill="none"/>
<path d="M643.00 526.07L645.80 531.25L640.20 531.25Z" fill="#138a13"/>
<path d="M649.00 523.16L651.80 517.98L646.20 517.98Z" fill="#1010f0"/>
<path d="M649.00 515.04V525.12M646.60 515.04H651.40M646.60 525.12H651.40" stroke="#1010f0" stroke-width="1.3" fill="none"/>
<path d="M655.00 518.64L657.29 521.34L655.00 524.04L652.70 521.34Z" fill="#3a0a5a"/>
<path d="M655.00 515.04V527.64M652.60 515.04H657.40M652.60 527.64H657.40" stroke="#3a0a5a" stroke-width="1.3" fill="none"/>
<circle cx="661.00" cy="514.79" r="2.50" fill="#d6d640" stroke="#666" stroke-width="1.0"/>
<path d="M661.00 508.49V521.09M658.60 508.49H663.40M658.60 521.09H663.40" stroke="#111" stroke-width="1.3" fill="none"/>
<rect x="664.50" y="512.04" width="5.00" height="5.00" fill="#fff" stroke="#666" stroke-width="1.3"/>
<path d="M667.00 508.24V520.84M664.60 508.24H669.40M664.60 520.84H669.40" stroke="#111" stroke-width="1.3" fill="none"/>
<circle cx="678.05" cy="503.70" r="2.60" fill="#000"/>
<rect x="681.65" y="522.22" width="4.80" height="4.80" fill="#f01010"/>
<path d="M684.05 522.10V527.14M681.65 522.10H686.45M681.65 527.14H686.45" stroke="#f01010" stroke-width="1.3" fill="none"/>
<path d="M696.05 523.16L698.85 517.98L693.25 517.98Z" fill="#1010f0"/>
<path d="M696.05 517.56V522.60M693.65 517.56H698.45M693.65 522.60H698.45" stroke="#1010f0" stroke-width="1.3" fill="none"/>
<path d="M702.05 520.15L704.34 522.85L702.05 525.55L699.75 522.85Z" fill="#3a0a5a"/>
<path d="M702.05 516.55V529.15M699.65 516.55H704.45M699.65 529.15H704.45" stroke="#3a0a5a" stroke-width="1.3" fill="none"/>
<circle cx="708.05" cy="516.05" r="2.50" fill="#d6d640" stroke="#666" stroke-width="1.0"/>
<path d="M708.05 508.74V523.36M705.65 508.74H710.45M705.65 523.36H710.45" stroke="#111" stroke-width="1.3" fill="none"/>
<rect x="711.55" y="512.29" width="5.00" height="5.00" fill="#fff" stroke="#666" stroke-width="1.3"/>
<path d="M714.05 506.22V523.36M711.65 506.22H716.45M711.65 523.36H716.45" stroke="#111" stroke-width="1.3" fill="none"/>
<circle cx="725.10" cy="503.70" r="2.60" fill="#000"/>
<rect x="728.70" y="523.98" width="4.80" height="4.80" fill="#f01010"/>
<path d="M731.10 523.86V528.90M728.70 523.86H733.50M728.70 528.90H733.50" stroke="#f01010" stroke-width="1.3" fill="none"/>
<path d="M743.10 524.67L745.90 519.49L740.30 519.49Z" fill="#1010f0"/>
<path d="M743.10 515.29V527.89M740.70 515.29H745.50M740.70 527.89H745.50" stroke="#1010f0" stroke-width="1.3" fill="none"/>
<path d="M749.10 517.38L751.39 520.08L749.10 522.78L746.80 520.08Z" fill="#3a0a5a"/>
<path d="M749.10 515.04V525.12M746.70 515.04H751.50M746.70 525.12H751.50" stroke="#3a0a5a" stroke-width="1.3" fill="none"/>
<circle cx="755.10" cy="519.32" r="2.50" fill="#d6d640" stroke="#666" stroke-width="1.0"/>
<path d="M755.10 512.52V526.13M752.70 512.52H757.50M752.70 526.13H757.50" stroke="#111" stroke-width="1.3" fill="none"/>
<rect x="758.60" y="510.78" width="5.00" height="5.00" fill="#fff" stroke="#666" stroke-width="1.3"/>
<path d="M761.10 506.98V519.58M758.70 506.98H763.50M758.70 519.58H763.50" stroke="#111" stroke-width="1.3" fill="none"/>
<path d="M690 537.2V556.1M687 556.1H693" stroke="#138a13" stroke-width="1.5" fill="none"/>
<path d="M690 534.2L693.2 540.2L686.8 540.2Z" fill="#138a13"/>
<path d="M736.7 542.8V570.1M733.7 570.1H739.7" stroke="#138a13" stroke-width="1.5" fill="none"/>
<path d="M736.7 539.8L739.9000000000001 545.8L733.5 545.8Z" fill="#138a13"/>
<text x="784.2" y="444.6" font-family="Liberation Sans" font-size="14" fill="#222">n = 7</text>
<circle cx="789.50" cy="461.50" r="2.80" fill="#000"/>
<text x="809.4" y="466.10" font-family="Liberation Sans" font-size="12.3" fill="#222">NA</text>
<rect x="786.80" y="478.20" width="5.40" height="5.40" fill="#f01010"/>
<text x="809.4" y="485.50" font-family="Liberation Sans" font-size="12.3" fill="#222">VD</text>
<path d="M789.50 497.10L792.50 502.65L786.50 502.65Z" fill="#138a13"/>
<text x="809.6" y="505.00" font-family="Liberation Sans" font-size="12.3" fill="#222">ST</text>
<path d="M789.50 526.30L792.50 520.75L786.50 520.75Z" fill="#1010f0"/>
<text x="809.8" y="527.60" font-family="Liberation Sans" font-size="12.3" fill="#222">BT20</text>
<path d="M789.50 540.80L791.97 543.70L789.50 546.60L787.03 543.70Z" fill="#3a0a5a"/>
<text x="810.7" y="548.30" font-family="Liberation Sans" font-size="12.3" fill="#222">VD+BT20</text>
<circle cx="791.00" cy="563.60" r="2.60" fill="#e8e830" stroke="#777" stroke-width="1.0"/>
<text x="811.9" y="568.20" font-family="Liberation Sans" font-size="12.3" fill="#222">BT100</text>
<rect x="788.40" y="580.90" width="5.20" height="5.20" fill="#fff" stroke="#666" stroke-width="1.3"/>
<text x="811.5" y="588.10" font-family="Liberation Sans" font-size="12.3" fill="#222">VD+BT100</text>
<text x="449.3" y="714.6" text-anchor="middle" font-family="Liberation Serif" font-size="24.5" fill="#111">(<tspan font-weight="bold">b</tspan>)</text>
<text x="120.65" y="744.7" text-anchor="middle" font-family="Liberation Sans" font-size="15.8" fill="#262626">NA</text>
<text x="325.25" y="744.7" text-anchor="middle" font-family="Liberation Sans" font-size="15.8" fill="#262626">ST</text>
<text x="533.9" y="744.7" text-anchor="middle" font-family="Liberation Sans" font-size="15.8" fill="#262626">BT20</text>
<text x="734.95" y="744.7" text-anchor="middle" font-family="Liberation Sans" font-size="15.8" fill="#262626">BT100</text>
<text x="322.5" y="1102.1" text-anchor="middle" font-family="Liberation Sans" font-size="15.8" fill="#262626">VD</text>
<text x="535.35" y="1102.1" text-anchor="middle" font-family="Liberation Sans" font-size="15.8" fill="#262626">VD+BT20</text>
<text x="739.75" y="1102.1" text-anchor="middle" font-family="Liberation Sans" font-size="15.8" fill="#262626">VD+BT100</text>
<clipPath id="rNA"><rect x="11.7" y="832.5" width="106.5" height="56.3"/></clipPath><g clip-path="url(#rNA)"><rect x="11.7" y="832.5" width="106.5" height="56.3" fill="#f7f3f1"/><path d="M11.7 832.5L17.5 832.5L18.0 836.0L16.0 838.0L20.0 842.0L18.0 845.0L23.0 850.0L21.0 853.0L28.0 858.0L27.0 861.0L34.0 865.0L33.0 868.0L40.0 870.0L41.0 873.0L48.0 875.0L49.0 878.0L55.0 879.0L57.0 881.0L63.0 878.0L65.0 880.0L70.0 876.0L72.0 878.0L77.0 873.0L79.0 875.0L84.0 870.0L87.0 872.0L91.0 867.5L95.0 869.0L100.0 865.0L105.0 866.5L110.0 863.0L114.0 864.0L118.2 862.0L118.2 867.5L101.4 873.5L78.8 882.5L60.8 887.0L45.0 881.5L22.5 871.5L11.7 858.0Z" filter="url(#tN)" fill="#000"/><path d="M11.7 832.5L17.5 832.5L18.0 836.0L16.0 838.0L20.0 842.0L18.0 845.0L23.0 850.0L21.0 853.0L28.0 858.0L27.0 861.0L34.0 865.0L33.0 868.0L40.0 870.0L41.0 873.0L48.0 875.0L49.0 878.0L55.0 879.0L57.0 881.0L63.0 878.0L65.0 880.0L70.0 876.0L72.0 878.0L77.0 873.0L79.0 875.0L84.0 870.0L87.0 872.0L91.0 867.5L95.0 869.0L100.0 865.0L105.0 866.5L110.0 863.0L114.0 864.0L118.2 862.0" stroke="#5a1670" stroke-width="0.9" fill="none" stroke-linecap="round" stroke-linejoin="round" opacity="0.5"/><path d="M118.2 868.5L101.4 874.5L78.8 883.5L60.8 888.0L45.0 882.5L22.5 872.5L11.7 859.0" stroke="#c862c4" stroke-width="1.8" fill="none" stroke-linecap="round" stroke-linejoin="round"/></g><ellipse cx="61.9" cy="876" rx="11.3" ry="11.3" fill="none" stroke="#e8423f" stroke-width="1.35"/><path d="M64.2 864L105.9 801.7M67.6 888.4L146.4 856.8" stroke="#e8423f" stroke-width="1.1" fill="none"/><clipPath id="cNA"><circle cx="148.2" cy="815.3" r="42.1"/></clipPath><g clip-path="url(#cNA)"><circle cx="148.2" cy="815.3" r="42.1" fill="#f7f3f1"/><path d="M104.0 819.5L106.5 818.8L113.0 815.6L121.6 811.2L130.3 809.1L137.8 809.6L140.5 812.3L135.7 815.6L130.3 822.1L128.1 828.5L128.6 834.0L133.5 828.5L138.9 825.3L144.3 823.1L147.6 824.2L149.7 818.8L150.8 811.2L156.2 803.7L162.7 800.4L167.0 799.4L169.2 802.6L171.4 803.7L171.9 798.3L171.4 792.9L175.7 788.5L179.5 786.9L184.3 789.6L192.0 795.0L192.0 852.0L104.0 852.0Z" filter="url(#tN)" fill="#000"/><path d="M104.0 819.5L106.5 818.8L113.0 815.6L121.6 811.2L130.3 809.1L137.8 809.6L140.5 812.3L135.7 815.6L130.3 822.1L128.1 828.5L128.6 834.0L133.5 828.5L138.9 825.3L144.3 823.1L147.6 824.2L149.7 818.8L150.8 811.2L156.2 803.7L162.7 800.4L167.0 799.4L169.2 802.6L171.4 803.7L171.9 798.3L171.4 792.9L175.7 788.5L179.5 786.9L184.3 789.6L192.0 795.0L192.0 852.0L104.0 852.0Z" fill="none" stroke="#5a1670" stroke-width="1.3" opacity="0.55"/><circle cx="131.4" cy="844.5" r="3.4" fill="#a763b3" stroke="#4a1262" stroke-width="2" opacity="0.7"/><circle cx="145.4" cy="845.5" r="3.4" fill="#a763b3" stroke="#4a1262" stroke-width="2" opacity="0.7"/><circle cx="160.5" cy="845" r="3.4" fill="#a763b3" stroke="#4a1262" stroke-width="2" opacity="0.7"/><circle cx="177.8" cy="843" r="3.4" fill="#a763b3" stroke="#4a1262" stroke-width="2" opacity="0.7"/><path d="M104.0 849.0L130.0 852.0L150.0 853.5L170.0 852.0L192.0 848.0" stroke="#d88ad8" stroke-width="2.6" fill="none" stroke-linecap="round" stroke-linejoin="round"/><path d="M104.0 853.0L130.0 856.0L150.0 857.0L170.0 856.0L192.0 852.0L192.0 870.0L104.0 870.0Z" fill="#f7f3f1"/></g><circle cx="148.2" cy="815.3" r="42.1" fill="none" stroke="#808080" stroke-width="1"/><clipPath id="rST"><rect x="221.6" y="828.2" width="115.7" height="60.5"/></clipPath><g clip-path="url(#rST)"><rect x="221.6" y="828.2" width="115.7" height="60.5" fill="#f7f3f1"/><path d="M221.0 855.0L338.0 855.0L338.0 889.0L221.0 889.0Z" filter="url(#tL)" fill="#000"/><path d="M221.0 828.0L338.0 828.0L338.0 864.0L310.0 869.0L300.0 874.0L290.0 876.0L280.0 875.3L259.0 869.5L244.3 865.1L221.0 863.6Z" filter="url(#tM)" fill="#000"/><path d="M221.0 828.0L338.0 828.0L338.0 862.0L310.0 867.0L300.0 872.0L290.0 874.0L280.0 873.3L259.0 867.5L244.3 863.1L221.0 861.6Z" filter="url(#tQ)" fill="#000"/><path d="M270.0 856.0L285.0 858.0L295.0 860.0L298.0 868.0L290.0 873.0L280.0 872.0L272.0 866.0Z" filter="url(#tD)" fill="#000" opacity="0.7"/><path d="M250.1 828.2L337.6 828.2L337.6 847.0L326.3 852.1L310.2 856.5L297.0 858.4L285.3 858.7L276.5 856.5L267.7 855.0L258.9 853.5L248.7 852.1L244.3 849.2L237.0 842.6L229.6 835.2L226.0 831.6L231.1 831.6L238.4 838.2L247.2 845.5L250.1 839.6Z" fill="#faf6f6"/><path d="M264.0 831.0L272.0 830.0L279.0 834.0L276.0 840.0L280.0 845.0L274.0 844.0L268.0 838.0Z" filter="url(#tM)" fill="#000"/><path d="M221.0 828.0L250.0 828.0L250.0 840.0L245.0 846.0L235.0 846.0L221.0 840.0Z" filter="url(#tM)" fill="#000" opacity="0.55"/><path d="M221.0 879.0L235.0 882.0L250.0 889.0L221.0 889.0Z" filter="url(#tD)" fill="#000"/><path d="M315.0 864.0L322.0 862.0L332.0 861.0" stroke="#efdcee" stroke-width="1.5" fill="none" stroke-linecap="round" stroke-linejoin="round"/></g><ellipse cx="282.3" cy="864.1" rx="13.6" ry="13.6" fill="none" stroke="#e8423f" stroke-width="1.35"/><path d="M284.3 849.2L333.9 793.4M284.3 877.7L368.6 864.1" stroke="#e8423f" stroke-width="1.1" fill="none"/><clipPath id="cST"><circle cx="371.8" cy="819.5" r="45.8"/></clipPath><g clip-path="url(#cST)"><circle cx="371.8" cy="819.5" r="45.8" fill="#f7f3f1"/><path d="M322.0 792.5L335.0 792.5L345.0 795.0L360.0 797.0L375.0 799.0L390.0 800.5L405.0 799.0L415.0 797.0L425.0 797.0L425.0 870.0L322.0 870.0Z" filter="url(#tP)" fill="#000"/><path d="M322.0 846.0L345.0 850.0L365.0 852.0L390.0 852.0L422.0 846.0L422.0 870.0L322.0 870.0Z" filter="url(#tM)" fill="#000" opacity="0.75"/><path d="M341.0 838.0L342.0 846.0L350.0 848.0" stroke="#efdcee" stroke-width="1.0" fill="none" stroke-linecap="round" stroke-linejoin="round" opacity="0.6"/><path d="M394.0 840.0L398.0 845.0L403.0 844.0" stroke="#efdcee" stroke-width="1.0" fill="none" stroke-linecap="round" stroke-linejoin="round" opacity="0.6"/></g><circle cx="371.8" cy="819.5" r="45.8" fill="none" stroke="#808080" stroke-width="1"/><clipPath id="rBT20"><rect x="443.6" y="831.6" width="109.1" height="57.1"/></clipPath><g clip-path="url(#rBT20)"><rect x="443.6" y="831.6" width="109.1" height="57.1" fill="#f7f3f1"/><path d="M442.0 870.0L553.0 855.0L553.0 889.0L442.0 889.0Z" filter="url(#tL)" fill="#000"/><path d="M442.0 831.0L553.0 831.0L553.0 862.0L535.0 868.0L510.0 876.0L470.0 880.6L442.0 879.0Z" filter="url(#tP)" fill="#000"/><path d="M459.0 831.6L525.0 831.6L522.0 842.0L500.0 850.0L480.0 849.0L462.0 844.0Z" filter="url(#tM)" fill="#000" opacity="0.85"/><path d="M443.6 838.0L455.0 835.0L468.0 843.0L480.0 852.0L485.0 862.0L480.0 872.0L466.0 878.0L452.0 876.0L443.6 872.0Z" filter="url(#tD)" fill="#000"/><path d="M486.0 851.0L495.0 848.0L505.0 849.0L510.0 851.0" stroke="#f0e0ee" stroke-width="1.6" fill="none" stroke-linecap="round" stroke-linejoin="round" opacity="0.85"/><path d="M531.0 847.0L534.0 852.0" stroke="#f0e0ee" stroke-width="1.3" fill="none" stroke-linecap="round" stroke-linejoin="round" opacity="0.85"/><path d="M461.0 869.0L464.0 874.0" stroke="#f0e0ee" stroke-width="1.3" fill="none" stroke-linecap="round" stroke-linejoin="round" opacity="0.85"/></g><ellipse cx="498.4" cy="865.3" rx="13.4" ry="13.6" fill="none" stroke="#e8423f" stroke-width="1.35"/><path d="M496.9 852.9L539 798.4M504.3 877.7L576.2 860.3" stroke="#e8423f" stroke-width="1.1" fill="none"/><clipPath id="cBT20"><circle cx="578.7" cy="817" r="43.4"/></clipPath><g clip-path="url(#cBT20)"><circle cx="578.7" cy="817" r="43.4" fill="#f7f3f1"/><path d="M530.0 770.0L630.0 770.0L630.0 865.0L530.0 865.0Z" filter="url(#tP)" fill="#000"/><path d="M540.6 822.0L549.0 826.0L556.0 836.0L557.0 846.0L552.0 851.0" stroke="#efdcee" stroke-width="1.4" fill="none" stroke-linecap="round" stroke-linejoin="round" opacity="0.8"/><path d="M558.0 784.0L566.0 784.5L576.0 786.0" stroke="#efdcee" stroke-width="1.4" fill="none" stroke-linecap="round" stroke-linejoin="round" opacity="0.8"/><path d="M603.0 786.0L605.0 793.0L605.5 800.0" stroke="#efdcee" stroke-width="1.4" fill="none" stroke-linecap="round" stroke-linejoin="round" opacity="0.8"/></g><circle cx="578.7" cy="817" r="43.4" fill="none" stroke="#808080" stroke-width="1"/><clipPath id="rBT100"><rect x="646.6" y="831.1" width="112.0" height="58.3"/></clipPath><g clip-path="url(#rBT100)"><rect x="646.6" y="831.1" width="112.0" height="58.3" fill="#f7f3f1"/><path d="M646.0 868.0L759.0 862.0L759.0 890.0L646.0 890.0Z" filter="url(#tW)" fill="#000"/><path d="M722.0 831.0L752.0 831.0L748.0 838.0L742.0 843.0L735.0 846.0L728.0 845.0L722.0 838.0Z" filter="url(#tM)" fill="#000" opacity="0.55"/><path d="M646.6 860.0L724.0 858.0L758.6 836.0L758.6 866.0L735.0 869.0L713.0 875.0L691.0 872.0L669.0 870.5L646.6 872.0Z" filter="url(#tM)" fill="#000"/><path d="M645.8 871.5V858.7A3.2 3.2 0 0 1 652.2 858.7V871.5Z" filter="url(#tD)" fill="#000"/><path d="M653.0 871.2V860.2A3.2 3.2 0 0 1 659.4 860.2V871.2Z" filter="url(#tD)" fill="#000"/><path d="M660.2 870.8V858.7A3.2 3.2 0 0 1 666.6 858.7V870.8Z" filter="url(#tD)" fill="#000"/><path d="M667.4 870.6V860.2A3.2 3.2 0 0 1 673.8 860.2V870.6Z" filter="url(#tD)" fill="#000"/><path d="M674.6 871.1V858.7A3.2 3.2 0 0 1 681.0 858.7V871.1Z" filter="url(#tD)" fill="#000"/><path d="M681.8 871.6V860.2A3.2 3.2 0 0 1 688.2 860.2V871.6Z" filter="url(#tD)" fill="#000"/><path d="M689.0 872.2V858.7A3.2 3.2 0 0 1 695.4 858.7V872.2Z" filter="url(#tD)" fill="#000"/><path d="M696.2 873.1V860.2A3.2 3.2 0 0 1 702.6 860.2V873.1Z" filter="url(#tD)" fill="#000"/><path d="M703.4 874.1V858.7A3.2 3.2 0 0 1 709.8 858.7V874.1Z" filter="url(#tD)" fill="#000"/><path d="M710.6 874.8V860.2A3.2 3.2 0 0 1 717.0 860.2V874.8Z" filter="url(#tD)" fill="#000"/><path d="M717.8 872.8V858.7A3.2 3.2 0 0 1 724.2 858.7V872.8Z" filter="url(#tD)" fill="#000"/><path d="M725.0 870.9V857.6A3.2 3.2 0 0 1 731.4 857.6V870.9Z" filter="url(#tD)" fill="#000"/><path d="M732.2 869.0V851.6A3.2 3.2 0 0 1 738.6 851.6V869.0Z" filter="url(#tD)" fill="#000"/><path d="M739.4 868.2V848.7A3.2 3.2 0 0 1 745.8 848.7V868.2Z" filter="url(#tD)" fill="#000"/><path d="M746.6 867.5V842.7A3.2 3.2 0 0 1 753.0 842.7V867.5Z" filter="url(#tD)" fill="#000"/><path d="M753.8 866.8V839.7A3.2 3.2 0 0 1 760.2 839.7V866.8Z" filter="url(#tD)" fill="#000"/><path d="M720.5 890.0L742.5 883.6L758.6 879.2L758.6 885.0L745.0 890.0Z" filter="url(#tD)" fill="#000"/><path d="M646.6 872.0L652.0 874.0L650.0 890.0L646.6 890.0Z" filter="url(#tP)" fill="#000"/></g><ellipse cx="704.8" cy="863.5" rx="13.3" ry="13.3" fill="none" stroke="#e8423f" stroke-width="1.35"/><path d="M704.9 850.4L754 794.2M714.3 874L788.7 860.3" stroke="#e8423f" stroke-width="1.1" fill="none"/><clipPath id="cBT100"><circle cx="791.3" cy="817.3" r="43.8"/></clipPath><g clip-path="url(#cBT100)"><circle cx="791.3" cy="817.3" r="43.8" fill="#f7f3f1"/><path d="M747.0 796.0L753.7 793.2L759.1 791.1L765.6 790.5L772.1 790.0L779.7 791.1L782.9 788.9L787.2 787.3L792.6 788.9L799.1 791.6L804.5 794.3L807.8 796.0L811.0 794.9L817.5 795.4L821.8 793.2L822.9 790.0L826.2 788.9L832.6 796.0L837.0 800.0L837.0 865.0L747.0 865.0Z" filter="url(#tM)" fill="#000"/><rect x="745" y="785" width="21.8" height="61" rx="5" ry="6" filter="url(#tD)" fill="#000"/><rect x="768.8" y="785" width="13.1" height="59" rx="5" ry="6" filter="url(#tD)" fill="#000"/><rect x="783.9" y="785" width="9.9" height="57" rx="5" ry="6" filter="url(#tD)" fill="#000"/><rect x="795.8" y="785" width="9.9" height="58" rx="5" ry="6" filter="url(#tD)" fill="#000"/><rect x="807.7" y="785" width="13.1" height="61" rx="5" ry="6" filter="url(#tD)" fill="#000"/><rect x="822.8" y="785" width="15.2" height="59" rx="5" ry="6" filter="url(#tD)" fill="#000"/><path d="M747.0 796.0L753.7 793.2L759.1 791.1L765.6 790.5L772.1 790.0L779.7 791.1L782.9 788.9L787.2 787.3L792.6 788.9L799.1 791.6L804.5 794.3L807.8 796.0L811.0 794.9L817.5 795.4L821.8 793.2L822.9 790.0L826.2 788.9L832.6 796.0L837.0 800.0L837.0 770.0L747.0 770.0Z" fill="#f7f3f1"/><ellipse cx="756" cy="806" rx="1.6" ry="3.5" fill="#c99ad0" opacity="0.6"/><ellipse cx="758" cy="818" rx="1.6" ry="3.5" fill="#c99ad0" opacity="0.6"/><ellipse cx="774" cy="812" rx="1.6" ry="3.5" fill="#c99ad0" opacity="0.6"/><ellipse cx="788" cy="812" rx="1.6" ry="3.5" fill="#c99ad0" opacity="0.6"/><ellipse cx="800" cy="808" rx="1.6" ry="3.5" fill="#c99ad0" opacity="0.6"/><ellipse cx="814" cy="814" rx="1.6" ry="3.5" fill="#c99ad0" opacity="0.6"/><ellipse cx="828" cy="812" rx="1.6" ry="3.5" fill="#c99ad0" opacity="0.6"/></g><circle cx="791.3" cy="817.3" r="43.8" fill="none" stroke="#808080" stroke-width="1"/><rect x="11.9" y="1004.3" width="107.8" height="57" fill="none" stroke="#6a6a6a" stroke-width="1"/><circle cx="149" cy="988.3" r="42.6" fill="none" stroke="#555" stroke-width="1"/><text x="153" y="990.8" text-anchor="middle" font-family="Liberation Sans" font-size="8" fill="#333">50X</text><text x="38" y="1027.6" text-anchor="middle" font-family="Liberation Sans" font-size="8" fill="#333">20X</text><ellipse cx="62" cy="1049.8" rx="12.4" ry="11.5" fill="none" stroke="#e8423f" stroke-width="1.35"/><path d="M56.5 1039L112.7 965.9M66.9 1060.8L158.6 1029.1" stroke="#e8423f" stroke-width="1.1" fill="none"/><clipPath id="rVD"><rect x="221.6" y="1002.1" width="112.7" height="59.8"/></clipPath><g clip-path="url(#rVD)"><rect x="221.6" y="1002.1" width="112.7" height="59.8" fill="#f7f3f1"/><path d="M221.0 1002.0L335.0 1002.0L335.0 1062.0L221.0 1062.0Z" filter="url(#tQ)" fill="#000"/><path d="M221.0 1002.0L335.0 1002.0L335.0 1009.0L221.0 1011.0Z" filter="url(#tM)" fill="#000"/><path d="M290.0 1002.0L335.0 1002.0L335.0 1014.0L318.0 1013.0L300.0 1011.0Z" filter="url(#tM)" fill="#000"/><path d="M221.6 1010.0L237.0 1008.0L252.0 1007.0L266.0 1009.0L277.0 1010.0L288.0 1012.0L297.0 1011.0L303.0 1012.0L310.0 1010.0L318.0 1009.0L319.0 1012.0L306.0 1016.0L291.0 1019.4L281.0 1025.0L273.6 1029.7L266.0 1029.7L259.0 1032.6L251.6 1030.4L244.3 1027.5L237.0 1024.6L229.6 1023.1L221.6 1022.4Z" fill="#faf6f6"/><path d="M221.0 1050.0L240.0 1052.0L260.0 1058.0L262.0 1062.0L221.0 1062.0Z" filter="url(#tM)" fill="#000"/><ellipse cx="241" cy="1032" rx="2.5" ry="4" fill="#3e0f58" opacity="0.85"/><ellipse cx="248" cy="1036" rx="2.3" ry="3" fill="#3e0f58" opacity="0.85"/><ellipse cx="306" cy="1038" rx="2.3" ry="2.8" fill="#3e0f58" opacity="0.85"/><ellipse cx="298" cy="1051" rx="3" ry="2.2" fill="#3e0f58" opacity="0.85"/><path d="M291.0 1053.0L297.0 1055.5L305.0 1052.0" stroke="#faf6f6" stroke-width="1.3" fill="none" stroke-linecap="round" stroke-linejoin="round"/><path d="M258.0 1033.0L262.0 1030.0" stroke="#faf6f6" stroke-width="1.2" fill="none" stroke-linecap="round" stroke-linejoin="round"/></g><ellipse cx="288.5" cy="1035" rx="13.6" ry="13.6" fill="none" stroke="#e8423f" stroke-width="1.35"/><path d="M279.9 1024.2L322.7 974.1M294.2 1045.2L358.7 1037" stroke="#e8423f" stroke-width="1.1" fill="none"/><clipPath id="cVD"><circle cx="364.1" cy="991.2" r="44.5"/></clipPath><g clip-path="url(#cVD)"><circle cx="364.1" cy="991.2" r="44.5" fill="#f7f3f1"/><path d="M318.0 975.0L322.5 973.4L332.2 963.6L343.0 958.2L353.8 953.9L362.5 949.5L368.0 946.0L372.0 944.0L410.0 944.0L410.0 1037.0L318.0 1037.0Z" filter="url(#tP)" fill="#000"/></g><circle cx="364.1" cy="991.2" r="44.5" fill="none" stroke="#808080" stroke-width="1"/><clipPath id="rVDBT20"><rect x="443.6" y="1002.6" width="112.0" height="59.3"/></clipPath><g clip-path="url(#rVDBT20)"><rect x="443.6" y="1002.6" width="112.0" height="59.3" fill="#f7f3f1"/><rect x="442" y="1002" width="115" height="61" fill="#faf6f6"/><path d="M442.0 1030.0L455.0 1044.0L470.0 1055.0L490.0 1061.0L515.0 1062.5L540.0 1058.0L556.0 1053.0L556.0 1002.0L442.0 1002.0Z" filter="url(#tK)" fill="#000"/><path d="M442.0 1024.5L455.0 1038.5L470.0 1049.5L490.0 1055.5L515.0 1057.0L540.0 1052.5L556.0 1047.5L556.0 1002.0L442.0 1002.0Z" filter="url(#tM)" fill="#000"/><path d="M442.0 1021.0L455.0 1035.0L470.0 1046.0L490.0 1052.0L515.0 1053.5L540.0 1049.0L556.0 1044.0L556.0 1002.0L442.0 1002.0Z" filter="url(#tD)" fill="#000"/><path d="M454.6 1002.6L525.0 1002.6L526.0 1006.0L518.2 1013.6L510.2 1018.0L498.5 1019.4L489.8 1018.0L480.9 1016.0L466.3 1015.0L454.6 1010.6Z" fill="#f2e4ef"/><path d="M462.0 1004.0L478.0 1003.0L492.0 1006.0L486.0 1011.0L470.0 1010.0Z" filter="url(#tM)" fill="#000" opacity="0.7"/><path d="M466.0 1022.0L472.0 1040.0" stroke="#efdcee" stroke-width="1.2" fill="none" stroke-linecap="round" stroke-linejoin="round" opacity="0.65"/><path d="M476.0 1020.0L481.0 1043.0" stroke="#efdcee" stroke-width="1.2" fill="none" stroke-linecap="round" stroke-linejoin="round" opacity="0.65"/><path d="M487.0 1021.0L490.0 1045.0" stroke="#efdcee" stroke-width="1.2" fill="none" stroke-linecap="round" stroke-linejoin="round" opacity="0.65"/><path d="M497.0 1022.0L498.0 1046.0" stroke="#efdcee" stroke-width="1.2" fill="none" stroke-linecap="round" stroke-linejoin="round" opacity="0.65"/><path d="M506.0 1021.0L506.0 1046.0" stroke="#efdcee" stroke-width="1.2" fill="none" stroke-linecap="round" stroke-linejoin="round" opacity="0.65"/><path d="M514.0 1019.0L512.0 1045.0" stroke="#efdcee" stroke-width="1.2" fill="none" stroke-linecap="round" stroke-linejoin="round" opacity="0.65"/><path d="M523.0 1016.0L520.0 1042.0" stroke="#efdcee" stroke-width="1.2" fill="none" stroke-linecap="round" stroke-linejoin="round" opacity="0.65"/><path d="M532.0 1013.0L527.0 1040.0" stroke="#efdcee" stroke-width="1.2" fill="none" stroke-linecap="round" stroke-linejoin="round" opacity="0.65"/><path d="M541.0 1010.0L535.0 1037.0" stroke="#efdcee" stroke-width="1.2" fill="none" stroke-linecap="round" stroke-linejoin="round" opacity="0.65"/><path d="M549.0 1008.0L543.0 1033.0" stroke="#efdcee" stroke-width="1.2" fill="none" stroke-linecap="round" stroke-linejoin="round" opacity="0.65"/><circle cx="458" cy="1032.7" r="2.2" fill="#b27cc0" stroke="#42105c" stroke-width="1.2" opacity="0.85"/><circle cx="466" cy="1038.6" r="2.2" fill="#b27cc0" stroke="#42105c" stroke-width="1.2" opacity="0.85"/><circle cx="474" cy="1042.7" r="2.2" fill="#b27cc0" stroke="#42105c" stroke-width="1.2" opacity="0.85"/><circle cx="483" cy="1045.4" r="2.2" fill="#b27cc0" stroke="#42105c" stroke-width="1.2" opacity="0.85"/><circle cx="492" cy="1047.6" r="2.2" fill="#b27cc0" stroke="#42105c" stroke-width="1.2" opacity="0.85"/><circle cx="501" cy="1048.2" r="2.2" fill="#b27cc0" stroke="#42105c" stroke-width="1.2" opacity="0.85"/><circle cx="510" cy="1048.7" r="2.2" fill="#b27cc0" stroke="#42105c" stroke-width="1.2" opacity="0.85"/><circle cx="519" cy="1048.3" r="2.2" fill="#b27cc0" stroke="#42105c" stroke-width="1.2" opacity="0.85"/><circle cx="528" cy="1046.7" r="2.2" fill="#b27cc0" stroke="#42105c" stroke-width="1.2" opacity="0.85"/><circle cx="537" cy="1045.0" r="2.2" fill="#b27cc0" stroke="#42105c" stroke-width="1.2" opacity="0.85"/></g><ellipse cx="501.8" cy="1032" rx="13.6" ry="13.6" fill="none" stroke="#e8423f" stroke-width="1.35"/><path d="M497.4 1019.2L552.6 964.7M506.8 1044L582.4 1035.3" stroke="#e8423f" stroke-width="1.1" fill="none"/><clipPath id="cVDBT20"><circle cx="587.5" cy="990.7" r="44.3"/></clipPath><g clip-path="url(#cVDBT20)"><circle cx="587.5" cy="990.7" r="44.3" fill="#f7f3f1"/><path d="M540.0 944.0L635.0 944.0L635.0 1040.0L540.0 1040.0Z" filter="url(#tP)" fill="#000"/><path d="M575.7 944.0L601.0 944.0L600.5 960.0L598.0 967.0L592.0 966.0L588.0 965.0L584.0 966.5L580.0 968.0L578.9 969.0L575.7 977.7L571.4 987.4L566.0 998.2L564.3 1011.0L562.2 1009.0L562.7 996.1L569.2 982.0L574.6 965.8Z" fill="#faf6f6" filter="url(#sb)"/><path d="M596.0 968.0L600.0 965.0L602.0 980.0L603.5 1000.0L605.5 1020.0L606.0 1036.0L601.0 1036.0L598.0 1020.0L595.0 1000.0L593.0 985.0L591.0 974.0Z" fill="#faf6f6" filter="url(#sb)"/><path d="M615.7 960.4L619.0 974.4L623.2 990.6L626.5 1002.5" stroke="#faf6f6" stroke-width="2.4" fill="none" stroke-linecap="round" stroke-linejoin="round" filter="url(#sb)"/><path d="M560.0 968.0L563.0 972.0" stroke="#faf6f6" stroke-width="1.6" fill="none" stroke-linecap="round" stroke-linejoin="round"/></g><circle cx="587.5" cy="990.7" r="44.3" fill="none" stroke="#808080" stroke-width="1"/><clipPath id="rVDBT100"><rect x="646.6" y="1001.9" width="116.4" height="60.0"/></clipPath><g clip-path="url(#rVDBT100)"><rect x="646.6" y="1001.9" width="116.4" height="60.0" fill="#f7f3f1"/><path d="M646.0 1044.0L764.0 1042.0L764.0 1062.0L646.0 1062.0Z" filter="url(#tL)" fill="#000"/><path d="M646.6 1032.0L660.0 1024.0L735.0 1026.0L763.0 1008.0L763.0 1050.0L646.6 1050.0Z" filter="url(#tM)" fill="#000"/><path d="M645.9 1050.0V1031.7A4.1 4.1 0 0 1 654.1 1031.7V1050.0Z" filter="url(#tP)" fill="#000"/><path d="M655.1 1050.0V1028.4A4.1 4.1 0 0 1 663.3 1028.4V1050.0Z" filter="url(#tP)" fill="#000"/><path d="M664.3 1050.0V1026.0A4.1 4.1 0 0 1 672.5 1026.0V1050.0Z" filter="url(#tP)" fill="#000"/><path d="M673.5 1050.0V1026.9A4.1 4.1 0 0 1 681.7 1026.9V1050.0Z" filter="url(#tP)" fill="#000"/><path d="M682.7 1050.0V1025.1A4.1 4.1 0 0 1 690.9 1025.1V1050.0Z" filter="url(#tP)" fill="#000"/><path d="M691.9 1050.0V1026.7A4.1 4.1 0 0 1 700.1 1026.7V1050.0Z" filter="url(#tP)" fill="#000"/><path d="M701.1 1050.0V1025.5A4.1 4.1 0 0 1 709.3 1025.5V1050.0Z" filter="url(#tP)" fill="#000"/><path d="M710.3 1050.0V1027.7A4.1 4.1 0 0 1 718.5 1027.7V1050.0Z" filter="url(#tP)" fill="#000"/><path d="M719.5 1050.0V1027.2A4.1 4.1 0 0 1 727.7 1027.2V1050.0Z" filter="url(#tP)" fill="#000"/><path d="M728.7 1050.0V1030.0A4.1 4.1 0 0 1 736.9 1030.0V1050.0Z" filter="url(#tP)" fill="#000"/><path d="M737.9 1050.0V1022.5A4.1 4.1 0 0 1 746.1 1022.5V1050.0Z" filter="url(#tP)" fill="#000"/><path d="M747.1 1050.0V1018.3A4.1 4.1 0 0 1 755.3 1018.3V1050.0Z" filter="url(#tP)" fill="#000"/><path d="M756.3 1050.0V1011.1A4.1 4.1 0 0 1 764.5 1011.1V1050.0Z" filter="url(#tP)" fill="#000"/><path d="M646.6 1044.0L650.0 1044.0L650.0 1062.0L646.6 1062.0Z" filter="url(#tP)" fill="#000"/></g><ellipse cx="705.4" cy="1036.2" rx="13.4" ry="14" fill="none" stroke="#e8423f" stroke-width="1.35"/><path d="M704.4 1022.9L756.5 967.2M714.3 1048.9L791.1 1037.8" stroke="#e8423f" stroke-width="1.1" fill="none"/><clipPath id="cVDBT100"><circle cx="793.9" cy="991.2" r="45"/></clipPath><g clip-path="url(#cVDBT100)"><circle cx="793.9" cy="991.2" r="45" fill="#f7f3f1"/><path d="M746.0 944.0L842.0 944.0L842.0 1040.0L746.0 1040.0Z" filter="url(#tP)" fill="#000"/><path d="M796.8 944.0L810.5 944.0L808.2 955.0L806.5 963.6L804.9 972.3L797.9 972.3L795.2 969.0L796.8 963.6L799.0 958.2L798.4 952.8Z" fill="#faf6f6"/><path d="M763.8 962.0L769.2 960.9L770.9 970.1L769.2 975.5L766.0 974.4L763.8 969.0Z" fill="#faf6f6"/><ellipse cx="770.3" cy="999.3" rx="2.2" ry="4.3" fill="#f3e3f0"/><ellipse cx="793.6" cy="1001.5" rx="3" ry="9.5" fill="none" stroke="#f3e3f0" stroke-width="1.6"/><ellipse cx="816.3" cy="996" rx="2.5" ry="8.5" fill="#efd8ec"/><path d="M785.0 1018.0L786.0 1032.0" stroke="#efdcee" stroke-width="2.2" fill="none" stroke-linecap="round" stroke-linejoin="round"/><path d="M803.0 1012.0L804.0 1026.0" stroke="#efdcee" stroke-width="2" fill="none" stroke-linecap="round" stroke-linejoin="round"/></g><circle cx="793.9" cy="991.2" r="45" fill="none" stroke="#808080" stroke-width="1"/>
<text x="449.2" y="1144.5" text-anchor="middle" font-family="Liberation Serif" font-size="24.5" fill="#111">(<tspan font-weight="bold">c</tspan>)</text>
</svg>
</body></html>
